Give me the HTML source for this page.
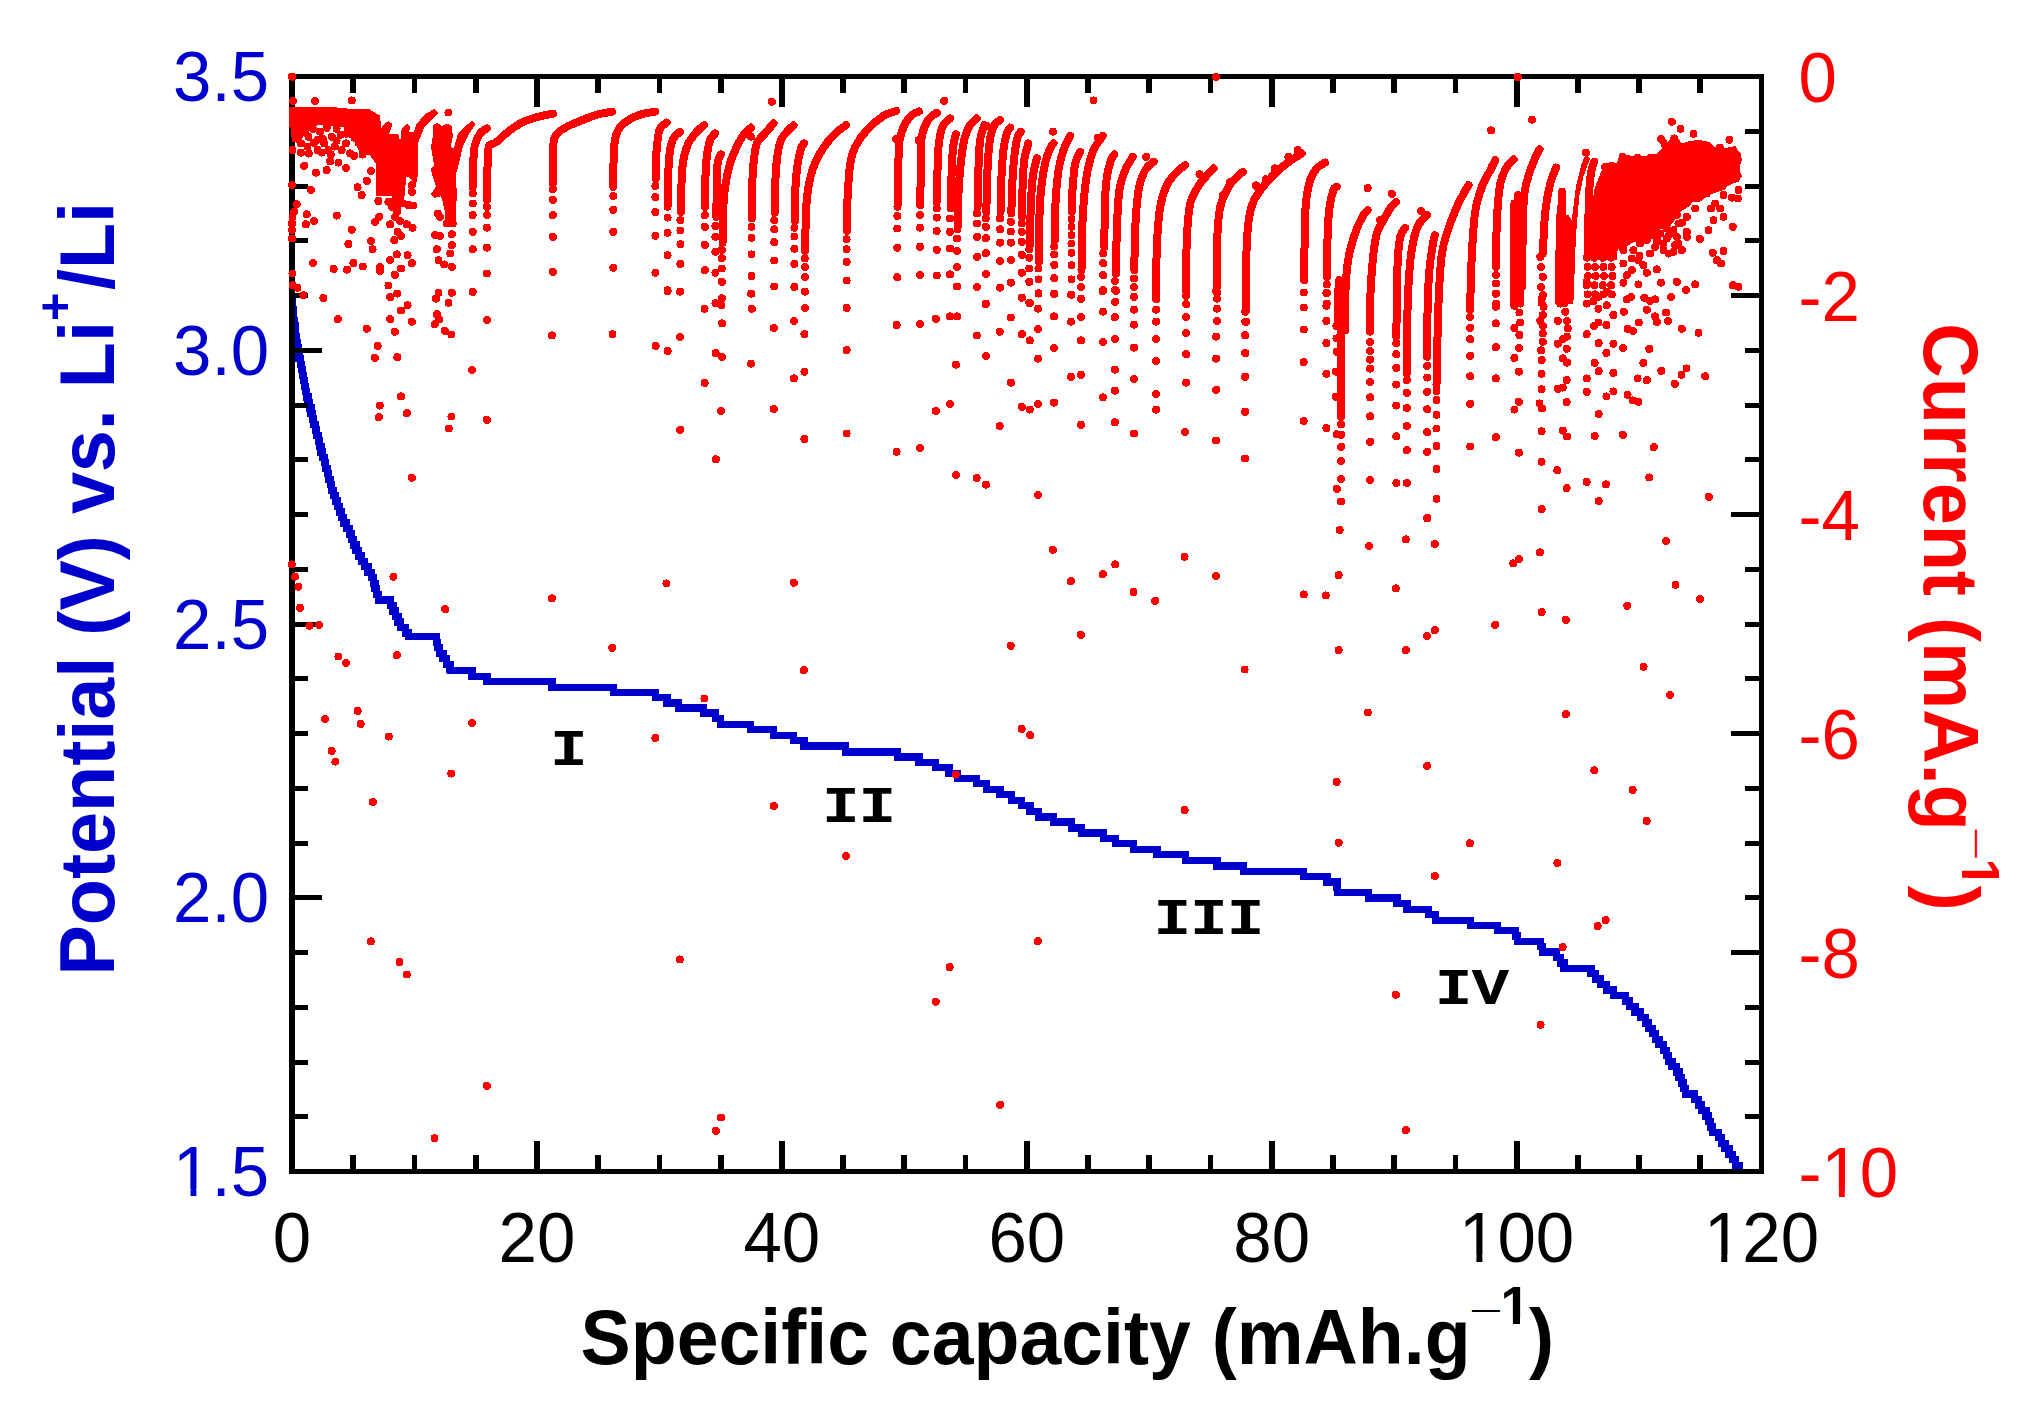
<!DOCTYPE html>
<html lang="en"><head><meta charset="utf-8"><title>Potential and current vs specific capacity</title>
<style>html,body{margin:0;padding:0;background:#fff}svg{display:block}text{font-family:"Liberation Sans",Arial,sans-serif}.m text{font-family:"Liberation Mono","Courier New",monospace;font-weight:bold}</style></head><body>
<svg width="2038" height="1410" viewBox="0 0 2038 1410">
<g shape-rendering="crispEdges">
<rect width="2038" height="1410" fill="#fff"/>
<clipPath id="c"><rect x="289" y="74" width="1475" height="1100"/></clipPath>
<path clip-path="url(#c)" d="M291.2 200H291.2V205.5H291.2V210.9H291.2V216.4H291.2V221.9H291.2V227.4H291.2V232.8H291.2V238.3H291.2V243.8H291.2V249.3H291.2V254.7H291.2V260.2H291.2V265.7H291.2V271.2H291.2V276.7H291.2V282.1H291.2V287.6H291.4V293.1H291.7V298.6H292V304H292.5V309.5H293V315H293.6V320.5H294.3V325.9H295V331.4H295.7V336.9H296.4V342.4H297.1V347.8H298V353.3H299.1V358.8H300.2V364.3H301.2V369.7H302.2V375.2H303.2V380.7H304.3V386.2H305.4V391.6H306.8V397.1H308.1V402.6H309.5V408.1H310.9V413.5H312.3V419H313.7V424.5H315.2V430H316.7V435.4H318.2V440.9H319.7V446.4H321.1V451.9H322.6V457.3H324.2V462.8H325.7V468.3H327.2V473.8H328.7V479.2H330.2V484.7H331.7V490.2H333.6V495.7H335.5V501.1H337.4V506.6H339.4V512.1H341.3V517.6H343.2V523H346.4V528.5H349.3V534H351.5V539.5H353.7V544.9H356.1V550.4H358.8V555.9H361.5V561.4H364.5V566.8H367.9V572.3H371.4V577.8H373.3V583.3H375.1V588.7H376.8V594.2H378.4V600.1H390.7V605.6H393.1V611.1H395.5V616.5H398V622H400.7V627.5H405.8V633H408.5V636.8H436.4V642.3H437.6V647.8H439.5V653.2H443.1V658.7H446.6V664.2H449.9V669.7H450.2V670.8H471.9V676.2H486.9V681.2H551.9V687.5H613.7V692.8H655.4V697.8H667.1V702.9H678.7V707.9H703.8V712.9H715.4V718.5H720.4V724.5H750.5V729.5H773.8V735.2H793.8V740.2H803.9V745.9H845.6V751.9H897.3V756.9H919V762.6H935.7V767.6H949V773.6H957.3V778.6H976.7V783.6H986.7V789.3H1000.1V794.6H1011.7V800.3H1021.7V805.3H1030.1V811.3H1038.4V817H1053.4V822H1071.8V828H1081.8V833H1103.5V838.7H1115.2V843.7H1133.5V849.7H1156.9V854.7H1185.2V860.3H1216.9V866H1243.6V871.4H1303.7V876.4H1327V882H1337.1V887.4H1337.7V892.7H1368.8V898H1397.1V903.7H1407.1V909.4H1428.8V914.7H1435.5V920.4H1470.5V925.4H1497.2V930.4H1515.6V936.1H1517.2V941.4H1540.6V946.8H1542.3V952.1H1556.5V957.5H1560.5V963H1564V968.3H1591.1V973.6H1595.6V979.1H1600.6V984.5H1606.7V990H1613.8V995.5H1625.3V1001H1629.5V1006.4H1635V1011.9H1640.5V1017.4H1645.5V1022.9H1648.3V1028.3H1652.2V1033.8H1655.6V1039.3H1658.9V1044.8H1663.6V1050.2H1666.4V1055.7H1668.6V1061.2H1671.9V1066.6H1676.4V1072.1H1679.1V1077.6H1681.2V1083.1H1683.4V1088.5H1685.7V1094H1694.2V1099.5H1698.6V1105H1701.6V1110.4H1706.1V1115.9H1708.3V1121.4H1710.5V1126.9H1712.8V1132.3H1718.2V1137.8H1721.5V1143.3H1725.1V1148.8H1729.1V1154.2H1732.3V1159.7H1735.8V1165.2H1739.1V1170.7" fill="none" stroke="#0000cd" stroke-width="7.3" stroke-linejoin="miter" stroke-linecap="butt"/>
<g fill="#000">
<rect x="289" y="74" width="6" height="1100"/>
<rect x="1759" y="74" width="5.2" height="1100"/>
<rect x="289" y="74" width="1475" height="5.2"/>
<rect x="289" y="1168.9" width="1475" height="5.1"/>
</g>
<g stroke="#000" fill="none" stroke-linecap="butt">
<path stroke-width="5.8" d="M353.2 76.5v16.2M353.2 1171.5v-16.2M414.5 76.5v16.2M414.5 1171.5v-16.2M475.7 76.5v16.2M475.7 1171.5v-16.2M536.9 76.5v30.3M536.9 1171.5v-30.3M598.1 76.5v16.2M598.1 1171.5v-16.2M659.4 76.5v16.2M659.4 1171.5v-16.2M720.6 76.5v16.2M720.6 1171.5v-16.2M781.8 76.5v30.3M781.8 1171.5v-30.3M843.1 76.5v16.2M843.1 1171.5v-16.2M904.3 76.5v16.2M904.3 1171.5v-16.2M965.5 76.5v16.2M965.5 1171.5v-16.2M1026.8 76.5v30.3M1026.8 1171.5v-30.3M1088 76.5v16.2M1088 1171.5v-16.2M1149.2 76.5v16.2M1149.2 1171.5v-16.2M1210.4 76.5v16.2M1210.4 1171.5v-16.2M1271.7 76.5v30.3M1271.7 1171.5v-30.3M1332.9 76.5v16.2M1332.9 1171.5v-16.2M1394.1 76.5v16.2M1394.1 1171.5v-16.2M1455.4 76.5v16.2M1455.4 1171.5v-16.2M1516.6 76.5v30.3M1516.6 1171.5v-30.3M1577.8 76.5v16.2M1577.8 1171.5v-16.2M1639 76.5v16.2M1639 1171.5v-16.2M1700.3 76.5v16.2M1700.3 1171.5v-16.2"/>
<path stroke-width="5" d="M292.0 131.2h16.2M1761.5 131.2h-16.2M292.0 186h16.2M1761.5 186h-16.2M292.0 240.8h16.2M1761.5 240.8h-16.2M292.0 295.5h16.2M1761.5 295.5h-30.3M292.0 350.2h30.3M1761.5 350.2h-16.2M292.0 405h16.2M1761.5 405h-16.2M292.0 459.8h16.2M1761.5 459.8h-16.2M292.0 514.5h16.2M1761.5 514.5h-30.3M292.0 569.2h16.2M1761.5 569.2h-16.2M292.0 624h30.3M1761.5 624h-16.2M292.0 678.8h16.2M1761.5 678.8h-16.2M292.0 733.5h16.2M1761.5 733.5h-30.3M292.0 788.2h16.2M1761.5 788.2h-16.2M292.0 843h16.2M1761.5 843h-16.2M292.0 897.8h30.3M1761.5 897.8h-16.2M292.0 952.5h16.2M1761.5 952.5h-30.3M292.0 1007.2h16.2M1761.5 1007.2h-16.2M292.0 1062h16.2M1761.5 1062h-16.2M292.0 1116.8h16.2M1761.5 1116.8h-16.2"/>
</g>
<g fill="#ff0000" stroke="none">
<polygon points="289,107.1 333.7,107.1 344.6,108.4 369.4,109.4 380.3,115.9 380.8,128.8 384.3,123.8 388.3,121.3 392.7,123.8 389.3,133.7 398.2,134.2 400.2,141.7 401.7,128.8 407.1,123.3 410.6,126.8 409.1,131.7 414.1,131.7 416.1,124.8 424,114.9 434,108.9 438.9,112.9 424,127.8 418.1,142.7 418.1,174.4 416.1,184.4 409.1,177.4 406.2,177.4 404.2,199.3 399.2,214.2 394.2,212.2 387.3,206.2 392.2,196.3 376.4,196.3 376.4,164.5 369.4,154.6 360.5,154.6 354.5,141.7 343.6,132.7 343.6,126.8 317.8,124.8 307.8,131.7 297.9,142.7 292,141.7 291,128.8 289,126.8"/>
<polygon points="433,124.8 436.9,122.8 441.9,125.8 446.9,123.8 451.8,125.8 452.8,136.7 450.8,146.6 453.8,148.6 457.8,133.7 463.7,127.8 471.7,120.8 475.7,123.8 468.7,134.7 462.8,146.6 458.8,164.5 455.8,174.4 456.8,194.3 455.8,219.1 452.8,225.1 445.9,224.1 443.9,204.2 439.9,194.3 435,198.3 431,194.3 435.9,186.4 432,174.4 434,164.5 431,146.6 433,134.7"/>
<polygon points="1555,303.6 1555.8,220.2 1558.4,196.8 1561.7,189.3 1565.9,193.5 1565,215.1 1568.4,215.1 1571.7,220.2 1575.9,186.8 1581.7,163.4 1585.9,154.3 1590.1,158.4 1583.4,176.8 1579.2,196.8 1575.9,236.8 1573.4,303.6"/>
<polygon points="1595.1,186.8 1601.7,170.1 1616.7,162.6 1623.4,154.3 1636.8,156.8 1656.8,154.3 1661.8,148.4 1660.1,137.6 1666.8,143.4 1673.5,135.9 1681.8,143.4 1690.2,140.9 1706.8,140.9 1716.8,150.1 1735.2,145.9 1741,156.8 1739.4,173.4 1741.9,176.8 1736.9,181.8 1726.9,186.8 1706.8,190.1 1700.2,183.4 1690.2,196.8 1686.8,208.5 1670.1,205.1 1663.5,211.8 1648.4,216.8 1640.1,226.8 1620.1,230.2 1617.6,243.5 1591.7,243.5 1592.6,203.5"/>
<polygon points="1594.8,187.5 1602.8,173.6 1602.8,166.7 1616.7,162.7 1619.7,154.8 1626.6,158.7 1634.5,155.7 1647.5,156.7 1659.4,152.8 1662.4,147.8 1658.4,139.9 1664.3,137.9 1669.3,143.8 1673.3,135.9 1679.2,139.9 1684.2,148.8 1690.2,140.9 1699.1,139.9 1709,141.8 1715,147.8 1720,144.8 1726.9,150.8 1733.9,146.8 1740.8,152.8 1741.8,159.7 1738.8,169.7 1741.8,175.6 1738.8,181.6 1728.9,184.5 1724.9,189.5 1713,193.5 1704.1,198.5 1699.1,202.4 1692.1,202.4 1689.2,206.4 1679.2,212.4 1675.3,219.3 1669.3,227.2 1659.4,229.2 1652.4,235.2 1645.5,239.2 1633.6,242.1 1625.6,247.1 1617.7,249.1 1616.7,260 1584.9,260 1584.9,209.4 1592.8,199.4"/>
</g>
<g fill="none" stroke="#ff0000" stroke-width="8" stroke-linecap="round" stroke-linejoin="round">
<path d="M472.7 186.8C472.8 182.9 472.8 170.4 473.2 163.4C473.6 156.4 473.7 150.1 474.9 145.1C476.1 140.1 478.2 136.2 480.2 133.4C482.2 130.6 485.8 129.2 486.9 128.4M486.9 200.1C487 195.1 487.1 178.7 487.4 170.1C487.7 161.5 488 152.6 488.5 148.4C489 144.2 488.8 146.2 490.2 145.1C491.6 144 494.4 143.5 496.9 141.7C499.4 139.9 502.4 136.5 505.2 134.2C508 131.8 510.8 129.5 513.6 127.6C516.4 125.7 519.1 124 521.9 122.6C524.7 121.2 527 120.3 530.3 119.2C533.6 118.1 538.1 116.8 541.9 115.9C545.6 115 551 114.1 552.8 113.7M552.8 183.4C552.8 179 553 163.8 553.1 156.8C553.2 149.9 553.3 145 553.6 141.7C553.9 138.3 553.8 138.5 554.9 136.7C556 134.9 558.3 132.6 560.3 130.9C562.3 129.2 563.7 128.4 567 126.7C570.3 125 575.3 122.9 580.3 120.9C585.3 118.9 591.7 116.2 597 114.7C602.3 113.2 609.5 112.2 612 111.7M613.3 186.8C613.4 181.2 613.4 161.2 613.7 153.4C614 145.6 614.5 143.4 615 140.1C615.5 136.8 615.7 135.8 616.7 133.4C617.7 131 618.7 128.3 620.9 125.9C623.1 123.5 626.5 121.2 630 119.2C633.5 117.2 637.5 115.5 641.7 114.2C645.9 113 652.9 112.1 655.1 111.7M655.9 178.4C656 174.2 656.1 159.8 656.4 153.4C656.7 147 657 144.3 657.6 140.1C658.2 135.9 658.6 131.3 660.1 128.4C661.6 125.5 665.6 123.6 666.7 122.6M667.6 206.8C667.7 200.7 668 179.6 668.4 170.1C668.8 160.6 669.3 155.4 670.1 150.1C670.9 144.8 671.7 141.5 673.4 138.4C675.1 135.3 679 132.8 680.1 131.7M680.9 211.8C681 206.2 681.3 187 681.7 178.4C682.1 169.8 682.3 165.9 683.4 160.1C684.5 154.3 686.2 148.1 688.4 143.4C690.6 138.7 694.1 134.8 696.8 131.7C699.4 128.6 703 126.2 704.3 125.1M705.1 206.8C705.1 202.1 705.1 186.7 705.4 178.4C705.7 170.1 706 163.2 706.8 156.8C707.6 150.4 708.7 144 710.1 140.1C711.5 136.2 714.3 134.5 715.1 133.4M716.3 216.8C716.4 211.8 716.6 195.7 716.8 186.8C717 177.9 716.9 168.8 717.6 163.4C718.3 158 720.4 155.8 721 154.3M722.6 242.7C722.7 237.5 722.7 221.1 723.1 211.8C723.5 202.5 723.9 194.9 725.1 186.8C726.3 178.7 728.2 170.1 730.1 163.4C732 156.7 734.6 151.4 736.8 146.7C739 142 741.1 138.3 743.5 135.1C745.9 131.9 749.8 128.8 751 127.6M751.8 218.5C751.9 213.2 751.9 196 752.2 186.8C752.5 177.6 752.7 170.6 753.5 163.4C754.3 156.2 755.1 148.1 756.8 143.4C758.5 138.7 760.7 138.4 763.5 135.1C766.3 131.8 771.8 125.4 773.5 123.4M774.8 212.6C774.9 206.9 775 188.3 775.5 178.4C776 168.5 776.7 160.1 777.7 153.4C778.8 146.7 780 142.3 781.8 138.4C783.6 134.5 786.5 132.3 788.5 130.1C790.5 127.9 792.7 126.2 793.5 125.4M794.9 221C795 215.3 795 196.4 795.5 186.8C796 177.2 796.8 169.8 797.7 163.4C798.6 157 800 151.7 801 148.4C802 145.1 803.4 144.2 803.9 143.4M805.2 251C805.3 244.5 805.5 222.5 806 211.8C806.5 201.1 807.2 194.3 808.5 186.8C809.8 179.3 811.3 172.9 813.5 166.8C815.7 160.7 818.5 155.4 821.9 150.1C825.2 144.8 829.6 139.3 833.6 135.1C837.6 130.9 844 126.8 846.1 125.1M846.9 231C847 225 847.1 206.4 847.7 195.1C848.3 183.8 849 171.5 850.3 163.4C851.6 155.3 852.5 152.2 855.3 146.7C858.1 141.1 862.2 135.2 866.9 130.1C871.6 125 878.7 119.1 883.6 115.9C888.5 112.7 894 111.7 896.1 110.9M897.5 206.8C897.6 200.7 898 181.2 898.3 170.1C898.6 159 898.3 147.9 899.5 140.1C900.7 132.3 903.2 127.6 905.3 123.4C907.4 119.2 909.7 117 912 115C914.3 113 917.8 112 919 111.4M920.3 205.1C920.4 199.3 920.6 180.9 920.7 170.1C920.9 159.3 920.2 148.2 921.2 140.1C922.2 132 924.6 126.2 927 121.7C929.4 117.2 933.6 114.9 935.3 113.4C937 112 936.7 113.1 937 113M936.7 201.8C936.8 196.5 937.2 179.6 937.5 170.1C937.8 160.6 937.9 152.3 938.7 145.1C939.5 137.9 940.6 131.2 942.5 126.7C944.4 122.2 948.8 119.8 950 118.4M950.9 208.5C951 202.1 951.3 180.7 951.7 170.1C952.1 159.5 952.7 151.1 953.4 145.1C954.1 139.1 955.5 136 955.9 134.2M957.5 229.3C957.6 223.6 957.8 206.3 958.4 195.1C959 183.8 959.8 171.5 960.9 161.8C962 152.1 963.5 142.8 965 136.7C966.5 130.6 968.1 128.1 970.1 125.1C972.1 122 975.6 119.5 976.7 118.4M977.6 206.8C977.7 200.7 978 181.2 978.4 170.1C978.8 159 979.1 147.6 980.1 140.1C981.1 132.6 983.5 127.6 984.2 125.1M986.4 211.8C986.5 206.2 986.6 189.5 987.1 178.4C987.6 167.3 988.2 153.7 989.2 145.1C990.2 136.5 991.6 130.9 993.4 126.7C995.2 122.5 999 121.2 1000.1 120.1M1000.6 211.8C1000.7 206.2 1000.9 188.7 1001.4 178.4C1001.9 168.1 1002.5 157.6 1003.4 150.1C1004.3 142.6 1005.7 137.2 1006.8 133.4C1007.9 129.7 1009.5 128.6 1010.1 127.6M1011.4 213.5C1011.5 209.1 1011.6 196.2 1012.1 186.8C1012.6 177.4 1013.4 165.2 1014.3 156.8C1015.2 148.5 1016.5 140.9 1017.6 136.7C1018.7 132.5 1020.4 132.5 1020.9 131.7M1022.1 216.8C1022.2 211.8 1022.2 196.2 1022.6 186.8C1023 177.4 1023.3 167.3 1024.3 160.1C1025.3 152.9 1027.7 146.2 1028.4 143.4M1030.1 245.2C1030.2 239.6 1030.2 222.9 1030.6 211.8C1031 200.7 1031.6 187.3 1032.6 178.4C1033.6 169.5 1036.1 161.7 1036.8 158.4M1038.8 261.9C1038.9 254.9 1038.9 232.2 1039.3 220.2C1039.7 208.2 1040 199.6 1041 190.1C1042 180.6 1043.6 170.3 1045.1 163.4C1046.6 156.5 1048.7 151.7 1050.1 148.4C1051.5 145.1 1052.9 144.2 1053.5 143.4M1054.8 240.2C1054.9 234.1 1054.9 215.2 1055.5 203.5C1056.1 191.8 1057.2 179 1058.5 170.1C1059.8 161.2 1061.5 155.8 1063.5 150.1C1065.5 144.4 1069.1 138.3 1070.2 135.9M1071.8 211.8C1072 207.6 1072.1 194.9 1072.7 186.8C1073.3 178.7 1074 169.2 1075.2 163.4C1076.5 157.6 1079.4 153.6 1080.2 151.7M1081.5 270.2C1081.6 263.2 1081.7 241 1082.2 228.5C1082.7 216 1083.4 204.8 1084.3 195.1C1085.2 185.4 1086.2 177.6 1087.7 170.1C1089.2 162.6 1091 155.8 1093.5 150.1C1096 144.4 1101.2 138.3 1102.7 135.9M1104.4 246.8C1104.5 239.6 1104.5 215.2 1104.9 203.5C1105.3 191.8 1105.9 184 1106.9 176.8C1107.9 169.6 1109.8 163.8 1111 160.1C1112.2 156.3 1113.8 155.3 1114.4 154.3M1116 273.5C1116.2 266 1116.3 242.4 1116.9 228.5C1117.5 214.6 1118 199.8 1119.4 190.1C1120.8 180.4 1123 175.6 1125.2 170.1C1127.4 164.6 1131.5 159 1132.7 156.8M1134.4 270.2C1134.5 263.2 1134.5 241.8 1135.2 228.5C1135.9 215.2 1136.9 199.8 1138.6 190.1C1140.3 180.4 1142.7 174.8 1145.2 170.1C1147.7 165.4 1152.2 163.2 1153.6 161.8M1155.6 294.4C1155.7 294 1155.9 300.1 1156.1 291.9C1156.3 283.7 1156.2 259.4 1156.9 245.2C1157.6 231 1158.5 216.8 1160.2 206.8C1161.9 196.8 1164.1 190.9 1166.9 185.1C1169.7 179.3 1173.8 175.1 1176.9 171.8C1180 168.5 1183.9 166.2 1185.3 165.1M1185.6 288.9C1185.7 288.6 1185.9 295.6 1186.1 286.9C1186.3 278.2 1186.2 250.7 1186.9 236.8C1187.6 222.9 1188.1 212.4 1190.3 203.5C1192.5 194.6 1196.4 189.2 1200.3 183.4C1204.2 177.6 1211.4 170.9 1213.6 168.4M1216.1 290.6C1216.2 290 1216.4 295.9 1216.6 286.9C1216.8 277.9 1216.7 250.2 1217.3 236.8C1217.9 223.5 1218.4 215.1 1220.3 206.8C1222.2 198.5 1225.8 191.8 1228.6 186.8C1231.4 181.8 1234.6 179.3 1237 176.8C1239.4 174.3 1241.8 172.6 1242.8 171.8M1245.3 311.7C1245.4 310.4 1245.6 314.7 1245.8 303.6C1246 292.5 1246.1 259.7 1246.7 245.2C1247.3 230.7 1248.1 224 1249.2 216.8C1250.3 209.6 1251.2 206.5 1253.3 201.8C1255.4 197.1 1258.3 192.9 1261.7 188.5C1265.1 184.1 1269.2 179.3 1273.4 175.1C1277.6 170.9 1282 167 1286.7 163.4C1291.4 159.8 1299.2 155.1 1301.7 153.4M1304.2 280.2C1304.3 273 1304.4 249.6 1304.7 236.8C1305 224 1305 212.9 1305.9 203.5C1306.8 194.1 1308.3 185.9 1310.1 180.1C1311.9 174.2 1314.2 171.3 1316.7 168.4C1319.2 165.5 1323.7 163.6 1325.1 162.6M1326.8 276.9C1326.9 270.2 1327.2 248.2 1327.6 236.8C1328 225.4 1328.3 216.3 1329.3 208.5C1330.3 200.7 1332.2 193.7 1333.4 190.1C1334.7 186.5 1336.2 187.4 1336.8 186.8M1341.1 416.8C1341.1 397.9 1341.2 326.3 1341.1 303.6C1341 280.9 1340.7 284.4 1340.6 280.5M1345.4 330C1345.4 325.6 1344.9 313.6 1345.1 303.6C1345.3 293.6 1346 279.1 1346.8 270.2C1347.6 261.3 1348.4 257.1 1350.1 250.2C1351.8 243.2 1354.6 234.3 1356.8 228.5C1359 222.7 1361.7 218.2 1363.5 215.1C1365.3 212 1366.9 210.9 1367.6 210.1M1370.1 331.7C1370.1 327 1369.7 315.2 1370.1 303.6C1370.5 292 1371.5 273.6 1372.6 261.9C1373.7 250.2 1375 240.4 1376.8 233.5C1378.6 226.6 1381.3 224.4 1383.5 220.2C1385.7 216 1388.1 211.6 1390.2 208.5C1392.3 205.4 1395 202.9 1396 201.8M1396.3 336.7C1396.4 331.2 1396.6 316.1 1396.8 303.6C1397 291.1 1397.1 273 1397.7 261.9C1398.3 250.8 1399 242.5 1400.2 236.8C1401.5 231.1 1404.4 229.2 1405.2 227.7M1406.8 373.4C1407 361.8 1407.1 322.2 1407.7 303.6C1408.3 285 1409.1 273 1410.2 261.9C1411.3 250.8 1412.8 243.2 1414.3 236.8C1415.8 230.4 1417.2 227.1 1419.3 223.5C1421.4 219.9 1425.6 216.5 1426.9 215.1M1427.2 356.7C1427.3 347.9 1427.3 318 1427.7 303.6C1428.1 289.2 1428.6 279.9 1429.4 270.2C1430.2 260.5 1431.8 251 1432.7 245.2C1433.6 239.4 1434.5 236.9 1434.9 235.2M1436.5 385.1C1436.8 371.5 1437.6 325.5 1438.5 303.6C1439.4 281.7 1440.2 266 1441.9 253.5C1443.6 241 1446 236.3 1448.5 228.5C1451 220.7 1454.4 212.6 1456.9 206.8C1459.4 201 1461.6 197.1 1463.6 193.5C1465.5 189.9 1467.8 186.5 1468.6 185.1M1470.2 310C1470.2 308.9 1469.9 313 1470.2 303.6C1470.5 294.2 1471.1 268.8 1471.9 253.5C1472.7 238.2 1473.5 222.9 1475.2 211.8C1476.9 200.7 1479.4 193.8 1481.9 186.8C1484.4 179.9 1488.1 174.6 1490.3 170.1C1492.5 165.6 1494.5 161.8 1495.3 160.1M1496.1 266.9C1496.2 259.1 1496.2 234.1 1496.9 220.2C1497.6 206.3 1498.6 192.3 1500.3 183.4C1502 174.5 1504.7 170.8 1506.9 166.8C1509.1 162.8 1512.5 160.6 1513.6 159.3M1516.9 303.6C1516.9 292.5 1516.8 254.9 1516.9 236.8C1517.1 218.7 1517.7 202.1 1517.8 195.1M1521.9 286.9C1522.2 273 1522.6 221.6 1523.6 203.5C1524.6 185.4 1526.1 185.3 1527.8 178.4C1529.5 171.5 1531.6 166.7 1533.6 161.8C1535.5 156.9 1538.5 151.3 1539.5 149.2M1542.8 253.5C1543.2 246.6 1544 223.5 1545.3 211.8C1546.5 200.1 1548.5 190.8 1550.3 183.4C1552.1 176 1555.1 170.2 1556.1 167.6M1560.3 303.6C1560.5 292.5 1560.9 255.4 1561.2 236.8C1561.5 218.2 1561.9 199.3 1562 191.8M1588.4 253.5C1588.5 245.2 1588.3 216.8 1588.7 203.5C1589.1 190.2 1590 180.3 1590.9 173.4C1591.8 166.5 1593.7 163.7 1594.2 161.8M1513.6 303.6L1514.4 203.5M1520.3 303.6L1520.6 220.2M1339.3 303.6L1339.3 280.2M1338.1 290L1338.1 323.4"/>
</g>
<path fill="#ff0000" d="M288.5 76.7a4 4 0 1 0 8 0a4 4 0 1 0 -8 0M289 100.9a4 4 0 1 0 8 0a4 4 0 1 0 -8 0M288.5 150.1a4 4 0 1 0 8 0a4 4 0 1 0 -8 0M288 185.1a4 4 0 1 0 8 0a4 4 0 1 0 -8 0M292.7 204.3a4 4 0 1 0 8 0a4 4 0 1 0 -8 0M290.2 211.8a4 4 0 1 0 8 0a4 4 0 1 0 -8 0M288.5 216.8a4 4 0 1 0 8 0a4 4 0 1 0 -8 0M288 223.5a4 4 0 1 0 8 0a4 4 0 1 0 -8 0M288 230.2a4 4 0 1 0 8 0a4 4 0 1 0 -8 0M288 238.5a4 4 0 1 0 8 0a4 4 0 1 0 -8 0M288.5 273.5a4 4 0 1 0 8 0a4 4 0 1 0 -8 0M288.5 285.2a4 4 0 1 0 8 0a4 4 0 1 0 -8 0M293.5 287.7a4 4 0 1 0 8 0a4 4 0 1 0 -8 0M299.4 295.2a4 4 0 1 0 8 0a4 4 0 1 0 -8 0M311 100.9a4 4 0 1 0 8 0a4 4 0 1 0 -8 0M347.7 100.4a4 4 0 1 0 8 0a4 4 0 1 0 -8 0M444.5 112.5a4 4 0 1 0 8 0a4 4 0 1 0 -8 0M296.9 143.4a4 4 0 1 0 8 0a4 4 0 1 0 -8 0M296.9 152.6a4 4 0 1 0 8 0a4 4 0 1 0 -8 0M304.4 136.7a4 4 0 1 0 8 0a4 4 0 1 0 -8 0M303.5 146.7a4 4 0 1 0 8 0a4 4 0 1 0 -8 0M316 131.7a4 4 0 1 0 8 0a4 4 0 1 0 -8 0M313.5 150.1a4 4 0 1 0 8 0a4 4 0 1 0 -8 0M320.2 143.4a4 4 0 1 0 8 0a4 4 0 1 0 -8 0M324.4 150.1a4 4 0 1 0 8 0a4 4 0 1 0 -8 0M341.9 143.4a4 4 0 1 0 8 0a4 4 0 1 0 -8 0M337.7 150.1a4 4 0 1 0 8 0a4 4 0 1 0 -8 0M346.1 153.4a4 4 0 1 0 8 0a4 4 0 1 0 -8 0M350.2 155.9a4 4 0 1 0 8 0a4 4 0 1 0 -8 0M326.1 161.4a4 4 0 1 0 8 0a4 4 0 1 0 -8 0M334.4 162.6a4 4 0 1 0 8 0a4 4 0 1 0 -8 0M341.9 168.1a4 4 0 1 0 8 0a4 4 0 1 0 -8 0M300.2 165.9a4 4 0 1 0 8 0a4 4 0 1 0 -8 0M311.9 172.6a4 4 0 1 0 8 0a4 4 0 1 0 -8 0M322.7 170.1a4 4 0 1 0 8 0a4 4 0 1 0 -8 0M366.9 170.9a4 4 0 1 0 8 0a4 4 0 1 0 -8 0M362.8 180.9a4 4 0 1 0 8 0a4 4 0 1 0 -8 0M353.6 187.3a4 4 0 1 0 8 0a4 4 0 1 0 -8 0M357.7 195.1a4 4 0 1 0 8 0a4 4 0 1 0 -8 0M306.9 189.8a4 4 0 1 0 8 0a4 4 0 1 0 -8 0M302.7 214.3a4 4 0 1 0 8 0a4 4 0 1 0 -8 0M332.7 215.6a4 4 0 1 0 8 0a4 4 0 1 0 -8 0M310.2 221a4 4 0 1 0 8 0a4 4 0 1 0 -8 0M301.9 224.3a4 4 0 1 0 8 0a4 4 0 1 0 -8 0M347.7 229.7a4 4 0 1 0 8 0a4 4 0 1 0 -8 0M344.4 244a4 4 0 1 0 8 0a4 4 0 1 0 -8 0M366.9 241a4 4 0 1 0 8 0a4 4 0 1 0 -8 0M368.6 249.3a4 4 0 1 0 8 0a4 4 0 1 0 -8 0M374.4 201a4 4 0 1 0 8 0a4 4 0 1 0 -8 0M375.3 216.8a4 4 0 1 0 8 0a4 4 0 1 0 -8 0M371.1 221.8a4 4 0 1 0 8 0a4 4 0 1 0 -8 0M386.1 224.3a4 4 0 1 0 8 0a4 4 0 1 0 -8 0M391.1 216.8a4 4 0 1 0 8 0a4 4 0 1 0 -8 0M396.1 221a4 4 0 1 0 8 0a4 4 0 1 0 -8 0M402.8 224.3a4 4 0 1 0 8 0a4 4 0 1 0 -8 0M408.6 227.7a4 4 0 1 0 8 0a4 4 0 1 0 -8 0M393.6 231.8a4 4 0 1 0 8 0a4 4 0 1 0 -8 0M397 236a4 4 0 1 0 8 0a4 4 0 1 0 -8 0M390.3 240.2a4 4 0 1 0 8 0a4 4 0 1 0 -8 0M392.8 254.4a4 4 0 1 0 8 0a4 4 0 1 0 -8 0M386.1 259.9a4 4 0 1 0 8 0a4 4 0 1 0 -8 0M403.6 255.2a4 4 0 1 0 8 0a4 4 0 1 0 -8 0M407.8 263.2a4 4 0 1 0 8 0a4 4 0 1 0 -8 0M397 268.5a4 4 0 1 0 8 0a4 4 0 1 0 -8 0M390.8 274.9a4 4 0 1 0 8 0a4 4 0 1 0 -8 0M376.1 266.9a4 4 0 1 0 8 0a4 4 0 1 0 -8 0M376.1 271a4 4 0 1 0 8 0a4 4 0 1 0 -8 0M358.9 266.5a4 4 0 1 0 8 0a4 4 0 1 0 -8 0M349.4 263a4 4 0 1 0 8 0a4 4 0 1 0 -8 0M343.1 269.7a4 4 0 1 0 8 0a4 4 0 1 0 -8 0M329.7 268.9a4 4 0 1 0 8 0a4 4 0 1 0 -8 0M308.9 263a4 4 0 1 0 8 0a4 4 0 1 0 -8 0M384.4 285.5a4 4 0 1 0 8 0a4 4 0 1 0 -8 0M393.3 293.6a4 4 0 1 0 8 0a4 4 0 1 0 -8 0M386.1 297.2a4 4 0 1 0 8 0a4 4 0 1 0 -8 0M319.4 298.1a4 4 0 1 0 8 0a4 4 0 1 0 -8 0M403.6 305.2a4 4 0 1 0 8 0a4 4 0 1 0 -8 0M407.8 185.1a4 4 0 1 0 8 0a4 4 0 1 0 -8 0M407.8 191.8a4 4 0 1 0 8 0a4 4 0 1 0 -8 0M404.5 205.1a4 4 0 1 0 8 0a4 4 0 1 0 -8 0M409.5 205.5a4 4 0 1 0 8 0a4 4 0 1 0 -8 0M384.4 201.8a4 4 0 1 0 8 0a4 4 0 1 0 -8 0M387.8 206.8a4 4 0 1 0 8 0a4 4 0 1 0 -8 0M392.8 211.8a4 4 0 1 0 8 0a4 4 0 1 0 -8 0M399.5 203.5a4 4 0 1 0 8 0a4 4 0 1 0 -8 0M431.2 170.1a4 4 0 1 0 8 0a4 4 0 1 0 -8 0M432.8 193.5a4 4 0 1 0 8 0a4 4 0 1 0 -8 0M433.7 213.5a4 4 0 1 0 8 0a4 4 0 1 0 -8 0M431.2 235.2a4 4 0 1 0 8 0a4 4 0 1 0 -8 0M436.2 236a4 4 0 1 0 8 0a4 4 0 1 0 -8 0M432.8 249.3a4 4 0 1 0 8 0a4 4 0 1 0 -8 0M434.5 260.2a4 4 0 1 0 8 0a4 4 0 1 0 -8 0M440.3 264.4a4 4 0 1 0 8 0a4 4 0 1 0 -8 0M447.8 266.9a4 4 0 1 0 8 0a4 4 0 1 0 -8 0M447.8 234.3a4 4 0 1 0 8 0a4 4 0 1 0 -8 0M447.8 245.2a4 4 0 1 0 8 0a4 4 0 1 0 -8 0M446.2 253.5a4 4 0 1 0 8 0a4 4 0 1 0 -8 0M434.5 292.7a4 4 0 1 0 8 0a4 4 0 1 0 -8 0M432 298.6a4 4 0 1 0 8 0a4 4 0 1 0 -8 0M447.8 292.7a4 4 0 1 0 8 0a4 4 0 1 0 -8 0M444.5 302.7a4 4 0 1 0 8 0a4 4 0 1 0 -8 0M442.8 203.5a4 4 0 1 0 8 0a4 4 0 1 0 -8 0M444.5 211.8a4 4 0 1 0 8 0a4 4 0 1 0 -8 0M442.8 223.5a4 4 0 1 0 8 0a4 4 0 1 0 -8 0M448.7 223.5a4 4 0 1 0 8 0a4 4 0 1 0 -8 0M435.9 217.1a4 4 0 1 0 8 0a4 4 0 1 0 -8 0M290.9 134.7a4 4 0 1 0 8 0a4 4 0 1 0 -8 0M292.9 138.7a4 4 0 1 0 8 0a4 4 0 1 0 -8 0M313.8 139.7a4 4 0 1 0 8 0a4 4 0 1 0 -8 0M317.7 152.6a4 4 0 1 0 8 0a4 4 0 1 0 -8 0M327.7 136.7a4 4 0 1 0 8 0a4 4 0 1 0 -8 0M332.6 140.7a4 4 0 1 0 8 0a4 4 0 1 0 -8 0M336.6 134.7a4 4 0 1 0 8 0a4 4 0 1 0 -8 0M330.7 146.6a4 4 0 1 0 8 0a4 4 0 1 0 -8 0M342.6 133.7a4 4 0 1 0 8 0a4 4 0 1 0 -8 0M354.5 142.7a4 4 0 1 0 8 0a4 4 0 1 0 -8 0M359.5 150.6a4 4 0 1 0 8 0a4 4 0 1 0 -8 0M358.5 154.6a4 4 0 1 0 8 0a4 4 0 1 0 -8 0M350.5 137.7a4 4 0 1 0 8 0a4 4 0 1 0 -8 0M346.5 128.8a4 4 0 1 0 8 0a4 4 0 1 0 -8 0M295.9 130.7a4 4 0 1 0 8 0a4 4 0 1 0 -8 0M300.9 132.7a4 4 0 1 0 8 0a4 4 0 1 0 -8 0M308.8 128.8a4 4 0 1 0 8 0a4 4 0 1 0 -8 0M322.7 127.8a4 4 0 1 0 8 0a4 4 0 1 0 -8 0M332.6 128.8a4 4 0 1 0 8 0a4 4 0 1 0 -8 0M318.7 138.7a4 4 0 1 0 8 0a4 4 0 1 0 -8 0M309.8 142.7a4 4 0 1 0 8 0a4 4 0 1 0 -8 0M326.7 154.6a4 4 0 1 0 8 0a4 4 0 1 0 -8 0M304.8 153.6a4 4 0 1 0 8 0a4 4 0 1 0 -8 0M767.8 101.7a4 4 0 1 0 8 0a4 4 0 1 0 -8 0M940.2 100.9a4 4 0 1 0 8 0a4 4 0 1 0 -8 0M1049 131.7a4 4 0 1 0 8 0a4 4 0 1 0 -8 0M1089.5 100.4a4 4 0 1 0 8 0a4 4 0 1 0 -8 0M1212.1 77a4 4 0 1 0 8 0a4 4 0 1 0 -8 0M1252.2 185.9a4 4 0 1 0 8 0a4 4 0 1 0 -8 0M1363.6 188.1a4 4 0 1 0 8 0a4 4 0 1 0 -8 0M1387.8 193.8a4 4 0 1 0 8 0a4 4 0 1 0 -8 0M1487.1 130.4a4 4 0 1 0 8 0a4 4 0 1 0 -8 0M1528 119.7a4 4 0 1 0 8 0a4 4 0 1 0 -8 0M1513.8 77a4 4 0 1 0 8 0a4 4 0 1 0 -8 0M1667.8 121.7a4 4 0 1 0 8 0a4 4 0 1 0 -8 0M1676.5 128.7a4 4 0 1 0 8 0a4 4 0 1 0 -8 0M1689.5 133.7a4 4 0 1 0 8 0a4 4 0 1 0 -8 0M1725.4 139.7a4 4 0 1 0 8 0a4 4 0 1 0 -8 0M1657 139.2a4 4 0 1 0 8 0a4 4 0 1 0 -8 0M1670.3 138.4a4 4 0 1 0 8 0a4 4 0 1 0 -8 0M1715.8 147.6a4 4 0 1 0 8 0a4 4 0 1 0 -8 0M1581.9 152.6a4 4 0 1 0 8 0a4 4 0 1 0 -8 0M1618.6 156.8a4 4 0 1 0 8 0a4 4 0 1 0 -8 0M1633.6 157.6a4 4 0 1 0 8 0a4 4 0 1 0 -8 0M1646.9 157.6a4 4 0 1 0 8 0a4 4 0 1 0 -8 0M1601.1 166.8a4 4 0 1 0 8 0a4 4 0 1 0 -8 0M1607.7 165.9a4 4 0 1 0 8 0a4 4 0 1 0 -8 0M1734.5 190.1a4 4 0 1 0 8 0a4 4 0 1 0 -8 0M1733.7 198.5a4 4 0 1 0 8 0a4 4 0 1 0 -8 0M1727.9 197.6a4 4 0 1 0 8 0a4 4 0 1 0 -8 0M1719.5 195.1a4 4 0 1 0 8 0a4 4 0 1 0 -8 0M1711.2 203.5a4 4 0 1 0 8 0a4 4 0 1 0 -8 0M1716.2 208.5a4 4 0 1 0 8 0a4 4 0 1 0 -8 0M1707 208.5a4 4 0 1 0 8 0a4 4 0 1 0 -8 0M1719.5 216.8a4 4 0 1 0 8 0a4 4 0 1 0 -8 0M1709.5 220.2a4 4 0 1 0 8 0a4 4 0 1 0 -8 0M1728.7 226.8a4 4 0 1 0 8 0a4 4 0 1 0 -8 0M1704.5 230.2a4 4 0 1 0 8 0a4 4 0 1 0 -8 0M1695.8 238.8a4 4 0 1 0 8 0a4 4 0 1 0 -8 0M1691.2 208.5a4 4 0 1 0 8 0a4 4 0 1 0 -8 0M1696.2 196.8a4 4 0 1 0 8 0a4 4 0 1 0 -8 0M1702.8 193.5a4 4 0 1 0 8 0a4 4 0 1 0 -8 0M1682.8 216.8a4 4 0 1 0 8 0a4 4 0 1 0 -8 0M1677.8 222.7a4 4 0 1 0 8 0a4 4 0 1 0 -8 0M1672.8 215.1a4 4 0 1 0 8 0a4 4 0 1 0 -8 0M1666.1 208.5a4 4 0 1 0 8 0a4 4 0 1 0 -8 0M1662.8 228.5a4 4 0 1 0 8 0a4 4 0 1 0 -8 0M1652.8 226.8a4 4 0 1 0 8 0a4 4 0 1 0 -8 0M1682.8 231.8a4 4 0 1 0 8 0a4 4 0 1 0 -8 0M1682.8 236.8a4 4 0 1 0 8 0a4 4 0 1 0 -8 0M1672.8 236.8a4 4 0 1 0 8 0a4 4 0 1 0 -8 0M1677.8 250.2a4 4 0 1 0 8 0a4 4 0 1 0 -8 0M1664.5 253.5a4 4 0 1 0 8 0a4 4 0 1 0 -8 0M1671.1 245.2a4 4 0 1 0 8 0a4 4 0 1 0 -8 0M1652.8 241.8a4 4 0 1 0 8 0a4 4 0 1 0 -8 0M1659.5 243.5a4 4 0 1 0 8 0a4 4 0 1 0 -8 0M1646.1 253.5a4 4 0 1 0 8 0a4 4 0 1 0 -8 0M1636.1 243.5a4 4 0 1 0 8 0a4 4 0 1 0 -8 0M1629.4 250.2a4 4 0 1 0 8 0a4 4 0 1 0 -8 0M1619.4 240.2a4 4 0 1 0 8 0a4 4 0 1 0 -8 0M1619.4 250.2a4 4 0 1 0 8 0a4 4 0 1 0 -8 0M1619.4 263.5a4 4 0 1 0 8 0a4 4 0 1 0 -8 0M1627.8 258.5a4 4 0 1 0 8 0a4 4 0 1 0 -8 0M1634.4 260.2a4 4 0 1 0 8 0a4 4 0 1 0 -8 0M1639.4 265.2a4 4 0 1 0 8 0a4 4 0 1 0 -8 0M1642.8 272.7a4 4 0 1 0 8 0a4 4 0 1 0 -8 0M1652.8 269.4a4 4 0 1 0 8 0a4 4 0 1 0 -8 0M1627.8 270.2a4 4 0 1 0 8 0a4 4 0 1 0 -8 0M1622.8 275.2a4 4 0 1 0 8 0a4 4 0 1 0 -8 0M1619.4 282.7a4 4 0 1 0 8 0a4 4 0 1 0 -8 0M1634.4 284.4a4 4 0 1 0 8 0a4 4 0 1 0 -8 0M1657 282.7a4 4 0 1 0 8 0a4 4 0 1 0 -8 0M1672.8 281.9a4 4 0 1 0 8 0a4 4 0 1 0 -8 0M1691.2 284.4a4 4 0 1 0 8 0a4 4 0 1 0 -8 0M1682 290.2a4 4 0 1 0 8 0a4 4 0 1 0 -8 0M1708.7 252.7a4 4 0 1 0 8 0a4 4 0 1 0 -8 0M1719.5 251a4 4 0 1 0 8 0a4 4 0 1 0 -8 0M1712.8 260.2a4 4 0 1 0 8 0a4 4 0 1 0 -8 0M1717 263.5a4 4 0 1 0 8 0a4 4 0 1 0 -8 0M1728.7 285.2a4 4 0 1 0 8 0a4 4 0 1 0 -8 0M1734.5 286.9a4 4 0 1 0 8 0a4 4 0 1 0 -8 0M1667 297.2a4 4 0 1 0 8 0a4 4 0 1 0 -8 0M1651.1 299.4a4 4 0 1 0 8 0a4 4 0 1 0 -8 0M1640.3 297.7a4 4 0 1 0 8 0a4 4 0 1 0 -8 0M1626.9 296.9a4 4 0 1 0 8 0a4 4 0 1 0 -8 0M1622.8 299.4a4 4 0 1 0 8 0a4 4 0 1 0 -8 0M1594.4 296.9a4 4 0 1 0 8 0a4 4 0 1 0 -8 0M1589.4 301.1a4 4 0 1 0 8 0a4 4 0 1 0 -8 0M1582.7 281.9a4 4 0 1 0 8 0a4 4 0 1 0 -8 0M1582.7 303.6a4 4 0 1 0 8 0a4 4 0 1 0 -8 0M1642.8 230.2a4 4 0 1 0 8 0a4 4 0 1 0 -8 0M1649.4 235.2a4 4 0 1 0 8 0a4 4 0 1 0 -8 0M1656.1 233.5a4 4 0 1 0 8 0a4 4 0 1 0 -8 0M1662.8 238.5a4 4 0 1 0 8 0a4 4 0 1 0 -8 0M1669.5 230.2a4 4 0 1 0 8 0a4 4 0 1 0 -8 0M1642.8 240.2a4 4 0 1 0 8 0a4 4 0 1 0 -8 0M1637.8 235.2a4 4 0 1 0 8 0a4 4 0 1 0 -8 0M1629.4 238.5a4 4 0 1 0 8 0a4 4 0 1 0 -8 0M1624.4 230.2a4 4 0 1 0 8 0a4 4 0 1 0 -8 0M1656.1 220.2a4 4 0 1 0 8 0a4 4 0 1 0 -8 0M1666.1 216.8a4 4 0 1 0 8 0a4 4 0 1 0 -8 0M1674.5 223.5a4 4 0 1 0 8 0a4 4 0 1 0 -8 0M1651.1 246.8a4 4 0 1 0 8 0a4 4 0 1 0 -8 0M1659.5 250.2a4 4 0 1 0 8 0a4 4 0 1 0 -8 0M1669.5 251.8a4 4 0 1 0 8 0a4 4 0 1 0 -8 0M1674.5 243.5a4 4 0 1 0 8 0a4 4 0 1 0 -8 0M1584.2 248.5a4 4 0 1 0 8 0a4 4 0 1 0 -8 0M1582.9 257.7a4 4 0 1 0 8 0a4 4 0 1 0 -8 0M1583.5 266.9a4 4 0 1 0 8 0a4 4 0 1 0 -8 0M1584.2 276a4 4 0 1 0 8 0a4 4 0 1 0 -8 0M1582.9 285.2a4 4 0 1 0 8 0a4 4 0 1 0 -8 0M1583.5 294.4a4 4 0 1 0 8 0a4 4 0 1 0 -8 0M1591.7 248.5a4 4 0 1 0 8 0a4 4 0 1 0 -8 0M1590.4 257.7a4 4 0 1 0 8 0a4 4 0 1 0 -8 0M1591.1 266.9a4 4 0 1 0 8 0a4 4 0 1 0 -8 0M1591.7 276a4 4 0 1 0 8 0a4 4 0 1 0 -8 0M1590.4 285.2a4 4 0 1 0 8 0a4 4 0 1 0 -8 0M1591.1 294.4a4 4 0 1 0 8 0a4 4 0 1 0 -8 0M1600.1 248.5a4 4 0 1 0 8 0a4 4 0 1 0 -8 0M1598.7 257.7a4 4 0 1 0 8 0a4 4 0 1 0 -8 0M1599.4 266.9a4 4 0 1 0 8 0a4 4 0 1 0 -8 0M1600.1 276a4 4 0 1 0 8 0a4 4 0 1 0 -8 0M1598.7 285.2a4 4 0 1 0 8 0a4 4 0 1 0 -8 0M1599.4 294.4a4 4 0 1 0 8 0a4 4 0 1 0 -8 0M1608.4 248.5a4 4 0 1 0 8 0a4 4 0 1 0 -8 0M1607.1 257.7a4 4 0 1 0 8 0a4 4 0 1 0 -8 0M1607.7 266.9a4 4 0 1 0 8 0a4 4 0 1 0 -8 0M1608.4 276a4 4 0 1 0 8 0a4 4 0 1 0 -8 0M1607.1 285.2a4 4 0 1 0 8 0a4 4 0 1 0 -8 0M1607.7 294.4a4 4 0 1 0 8 0a4 4 0 1 0 -8 0M1665.3 234.2a4 4 0 1 0 8 0a4 4 0 1 0 -8 0M1653.4 237.2a4 4 0 1 0 8 0a4 4 0 1 0 -8 0M1635.5 256a4 4 0 1 0 8 0a4 4 0 1 0 -8 0M468.7 291.7a4 4 0 1 0 8 0a4 4 0 1 0 -8 0M397 310.5a4 4 0 1 0 8 0a4 4 0 1 0 -8 0M432.8 314.2a4 4 0 1 0 8 0a4 4 0 1 0 -8 0M435.3 319.2a4 4 0 1 0 8 0a4 4 0 1 0 -8 0M430.8 324.2a4 4 0 1 0 8 0a4 4 0 1 0 -8 0M333.9 319.2a4 4 0 1 0 8 0a4 4 0 1 0 -8 0M386.1 319.2a4 4 0 1 0 8 0a4 4 0 1 0 -8 0M407.8 321.7a4 4 0 1 0 8 0a4 4 0 1 0 -8 0M482.9 320a4 4 0 1 0 8 0a4 4 0 1 0 -8 0M362.8 328.7a4 4 0 1 0 8 0a4 4 0 1 0 -8 0M390.8 331.7a4 4 0 1 0 8 0a4 4 0 1 0 -8 0M440.8 330.9a4 4 0 1 0 8 0a4 4 0 1 0 -8 0M447.5 334.5a4 4 0 1 0 8 0a4 4 0 1 0 -8 0M547.9 335.4a4 4 0 1 0 8 0a4 4 0 1 0 -8 0M608.5 334.2a4 4 0 1 0 8 0a4 4 0 1 0 -8 0M373.6 345.9a4 4 0 1 0 8 0a4 4 0 1 0 -8 0M370.8 357.9a4 4 0 1 0 8 0a4 4 0 1 0 -8 0M393.3 357.1a4 4 0 1 0 8 0a4 4 0 1 0 -8 0M467.9 370.1a4 4 0 1 0 8 0a4 4 0 1 0 -8 0M397 396.4a4 4 0 1 0 8 0a4 4 0 1 0 -8 0M375.8 405.6a4 4 0 1 0 8 0a4 4 0 1 0 -8 0M402.8 413.1a4 4 0 1 0 8 0a4 4 0 1 0 -8 0M374.8 417.1a4 4 0 1 0 8 0a4 4 0 1 0 -8 0M447.5 416.5a4 4 0 1 0 8 0a4 4 0 1 0 -8 0M482.9 419.8a4 4 0 1 0 8 0a4 4 0 1 0 -8 0M444.8 428.5a4 4 0 1 0 8 0a4 4 0 1 0 -8 0M407.8 477.7a4 4 0 1 0 8 0a4 4 0 1 0 -8 0M663.6 291.3a4 4 0 1 0 8 0a4 4 0 1 0 -8 0M676.1 291.7a4 4 0 1 0 8 0a4 4 0 1 0 -8 0M747 293.7a4 4 0 1 0 8 0a4 4 0 1 0 -8 0M800.9 291.7a4 4 0 1 0 8 0a4 4 0 1 0 -8 0M717.8 298.3a4 4 0 1 0 8 0a4 4 0 1 0 -8 0M711.4 303.3a4 4 0 1 0 8 0a4 4 0 1 0 -8 0M717.3 305.3a4 4 0 1 0 8 0a4 4 0 1 0 -8 0M700.6 308.7a4 4 0 1 0 8 0a4 4 0 1 0 -8 0M747.8 308.7a4 4 0 1 0 8 0a4 4 0 1 0 -8 0M800.9 307.9a4 4 0 1 0 8 0a4 4 0 1 0 -8 0M842.6 307.9a4 4 0 1 0 8 0a4 4 0 1 0 -8 0M718.1 323.4a4 4 0 1 0 8 0a4 4 0 1 0 -8 0M789.9 320.9a4 4 0 1 0 8 0a4 4 0 1 0 -8 0M769.8 328a4 4 0 1 0 8 0a4 4 0 1 0 -8 0M800.4 334.2a4 4 0 1 0 8 0a4 4 0 1 0 -8 0M892.6 325a4 4 0 1 0 8 0a4 4 0 1 0 -8 0M916 323.9a4 4 0 1 0 8 0a4 4 0 1 0 -8 0M931.8 318.9a4 4 0 1 0 8 0a4 4 0 1 0 -8 0M676.1 337a4 4 0 1 0 8 0a4 4 0 1 0 -8 0M651.6 345.9a4 4 0 1 0 8 0a4 4 0 1 0 -8 0M663.6 350.9a4 4 0 1 0 8 0a4 4 0 1 0 -8 0M711.6 353.1a4 4 0 1 0 8 0a4 4 0 1 0 -8 0M718.1 357.1a4 4 0 1 0 8 0a4 4 0 1 0 -8 0M842.6 350.1a4 4 0 1 0 8 0a4 4 0 1 0 -8 0M747 363.7a4 4 0 1 0 8 0a4 4 0 1 0 -8 0M800.4 371.7a4 4 0 1 0 8 0a4 4 0 1 0 -8 0M789.9 378.4a4 4 0 1 0 8 0a4 4 0 1 0 -8 0M700.6 382.9a4 4 0 1 0 8 0a4 4 0 1 0 -8 0M717 411a4 4 0 1 0 8 0a4 4 0 1 0 -8 0M769.8 409a4 4 0 1 0 8 0a4 4 0 1 0 -8 0M931.8 411a4 4 0 1 0 8 0a4 4 0 1 0 -8 0M676.1 429.8a4 4 0 1 0 8 0a4 4 0 1 0 -8 0M842.6 433.5a4 4 0 1 0 8 0a4 4 0 1 0 -8 0M800.4 439a4 4 0 1 0 8 0a4 4 0 1 0 -8 0M892.6 451.8a4 4 0 1 0 8 0a4 4 0 1 0 -8 0M916 448a4 4 0 1 0 8 0a4 4 0 1 0 -8 0M711.9 459.3a4 4 0 1 0 8 0a4 4 0 1 0 -8 0M946 316.4a4 4 0 1 0 8 0a4 4 0 1 0 -8 0M953 316.4a4 4 0 1 0 8 0a4 4 0 1 0 -8 0M981.9 304.2a4 4 0 1 0 8 0a4 4 0 1 0 -8 0M972.7 335.5a4 4 0 1 0 8 0a4 4 0 1 0 -8 0M995.7 331.7a4 4 0 1 0 8 0a4 4 0 1 0 -8 0M1006.9 317.5a4 4 0 1 0 8 0a4 4 0 1 0 -8 0M1017.8 297.5a4 4 0 1 0 8 0a4 4 0 1 0 -8 0M1025.8 303.3a4 4 0 1 0 8 0a4 4 0 1 0 -8 0M1034 308.7a4 4 0 1 0 8 0a4 4 0 1 0 -8 0M1034.5 293.3a4 4 0 1 0 8 0a4 4 0 1 0 -8 0M1050 293.7a4 4 0 1 0 8 0a4 4 0 1 0 -8 0M1067 294.7a4 4 0 1 0 8 0a4 4 0 1 0 -8 0M1077 298.7a4 4 0 1 0 8 0a4 4 0 1 0 -8 0M1098.7 291.3a4 4 0 1 0 8 0a4 4 0 1 0 -8 0M1112 290.8a4 4 0 1 0 8 0a4 4 0 1 0 -8 0M1110.9 302a4 4 0 1 0 8 0a4 4 0 1 0 -8 0M1130 296.7a4 4 0 1 0 8 0a4 4 0 1 0 -8 0M1152.1 292.5a4 4 0 1 0 8 0a4 4 0 1 0 -8 0M1152.1 299.2a4 4 0 1 0 8 0a4 4 0 1 0 -8 0M1182.1 295.8a4 4 0 1 0 8 0a4 4 0 1 0 -8 0M1213 292.5a4 4 0 1 0 8 0a4 4 0 1 0 -8 0M1213 298.7a4 4 0 1 0 8 0a4 4 0 1 0 -8 0M1242.2 294.7a4 4 0 1 0 8 0a4 4 0 1 0 -8 0M1242.2 302.5a4 4 0 1 0 8 0a4 4 0 1 0 -8 0M1242.2 310.9a4 4 0 1 0 8 0a4 4 0 1 0 -8 0M1050 316.4a4 4 0 1 0 8 0a4 4 0 1 0 -8 0M1077 317a4 4 0 1 0 8 0a4 4 0 1 0 -8 0M1067 321.7a4 4 0 1 0 8 0a4 4 0 1 0 -8 0M1099 311.7a4 4 0 1 0 8 0a4 4 0 1 0 -8 0M1110.9 317.2a4 4 0 1 0 8 0a4 4 0 1 0 -8 0M1130 309.7a4 4 0 1 0 8 0a4 4 0 1 0 -8 0M1152.1 309.7a4 4 0 1 0 8 0a4 4 0 1 0 -8 0M1182.1 304.2a4 4 0 1 0 8 0a4 4 0 1 0 -8 0M1213 308.7a4 4 0 1 0 8 0a4 4 0 1 0 -8 0M1034 329.2a4 4 0 1 0 8 0a4 4 0 1 0 -8 0M1017.8 334.2a4 4 0 1 0 8 0a4 4 0 1 0 -8 0M1025.8 340.4a4 4 0 1 0 8 0a4 4 0 1 0 -8 0M1077 340.4a4 4 0 1 0 8 0a4 4 0 1 0 -8 0M1099 342.1a4 4 0 1 0 8 0a4 4 0 1 0 -8 0M1110.9 338.9a4 4 0 1 0 8 0a4 4 0 1 0 -8 0M1130 324.7a4 4 0 1 0 8 0a4 4 0 1 0 -8 0M1152.1 321.7a4 4 0 1 0 8 0a4 4 0 1 0 -8 0M1182.1 317a4 4 0 1 0 8 0a4 4 0 1 0 -8 0M1213 320.9a4 4 0 1 0 8 0a4 4 0 1 0 -8 0M1242.2 321.7a4 4 0 1 0 8 0a4 4 0 1 0 -8 0M1050 348.1a4 4 0 1 0 8 0a4 4 0 1 0 -8 0M981.9 355.9a4 4 0 1 0 8 0a4 4 0 1 0 -8 0M1034 358.7a4 4 0 1 0 8 0a4 4 0 1 0 -8 0M1130 347.6a4 4 0 1 0 8 0a4 4 0 1 0 -8 0M1152.1 338.9a4 4 0 1 0 8 0a4 4 0 1 0 -8 0M1182.1 333a4 4 0 1 0 8 0a4 4 0 1 0 -8 0M1212.1 336.7a4 4 0 1 0 8 0a4 4 0 1 0 -8 0M1241 335a4 4 0 1 0 8 0a4 4 0 1 0 -8 0M951.9 364.7a4 4 0 1 0 8 0a4 4 0 1 0 -8 0M1152.1 360.9a4 4 0 1 0 8 0a4 4 0 1 0 -8 0M1182.1 354.2a4 4 0 1 0 8 0a4 4 0 1 0 -8 0M1212.1 358.7a4 4 0 1 0 8 0a4 4 0 1 0 -8 0M1241 353.1a4 4 0 1 0 8 0a4 4 0 1 0 -8 0M1110.9 369.7a4 4 0 1 0 8 0a4 4 0 1 0 -8 0M1067 376.8a4 4 0 1 0 8 0a4 4 0 1 0 -8 0M1077 374.8a4 4 0 1 0 8 0a4 4 0 1 0 -8 0M1006.9 382.6a4 4 0 1 0 8 0a4 4 0 1 0 -8 0M1130 378.9a4 4 0 1 0 8 0a4 4 0 1 0 -8 0M1182.1 382.6a4 4 0 1 0 8 0a4 4 0 1 0 -8 0M1241 376.8a4 4 0 1 0 8 0a4 4 0 1 0 -8 0M1110.9 390.6a4 4 0 1 0 8 0a4 4 0 1 0 -8 0M1099 397.3a4 4 0 1 0 8 0a4 4 0 1 0 -8 0M1152.1 393.9a4 4 0 1 0 8 0a4 4 0 1 0 -8 0M1212.1 389.8a4 4 0 1 0 8 0a4 4 0 1 0 -8 0M946 403.9a4 4 0 1 0 8 0a4 4 0 1 0 -8 0M1017.8 406.8a4 4 0 1 0 8 0a4 4 0 1 0 -8 0M1025.8 409.6a4 4 0 1 0 8 0a4 4 0 1 0 -8 0M1034 403.9a4 4 0 1 0 8 0a4 4 0 1 0 -8 0M1050 402.6a4 4 0 1 0 8 0a4 4 0 1 0 -8 0M1152.1 409.6a4 4 0 1 0 8 0a4 4 0 1 0 -8 0M1241 411.8a4 4 0 1 0 8 0a4 4 0 1 0 -8 0M995.7 426a4 4 0 1 0 8 0a4 4 0 1 0 -8 0M1077 424.8a4 4 0 1 0 8 0a4 4 0 1 0 -8 0M1110.9 422.3a4 4 0 1 0 8 0a4 4 0 1 0 -8 0M1130 433.5a4 4 0 1 0 8 0a4 4 0 1 0 -8 0M1180.9 432.1a4 4 0 1 0 8 0a4 4 0 1 0 -8 0M1212.1 440.5a4 4 0 1 0 8 0a4 4 0 1 0 -8 0M1241 458.5a4 4 0 1 0 8 0a4 4 0 1 0 -8 0M951.9 474.9a4 4 0 1 0 8 0a4 4 0 1 0 -8 0M972.7 478a4 4 0 1 0 8 0a4 4 0 1 0 -8 0M981.9 484.7a4 4 0 1 0 8 0a4 4 0 1 0 -8 0M1034 494.9a4 4 0 1 0 8 0a4 4 0 1 0 -8 0M1602.7 291.7a4 4 0 1 0 8 0a4 4 0 1 0 -8 0M1602.7 305.3a4 4 0 1 0 8 0a4 4 0 1 0 -8 0M1594.4 308.7a4 4 0 1 0 8 0a4 4 0 1 0 -8 0M1609.4 315a4 4 0 1 0 8 0a4 4 0 1 0 -8 0M1619.8 311.7a4 4 0 1 0 8 0a4 4 0 1 0 -8 0M1646.1 300.8a4 4 0 1 0 8 0a4 4 0 1 0 -8 0M1642.8 309.7a4 4 0 1 0 8 0a4 4 0 1 0 -8 0M1651.1 316.4a4 4 0 1 0 8 0a4 4 0 1 0 -8 0M1652.8 322a4 4 0 1 0 8 0a4 4 0 1 0 -8 0M1662 312.5a4 4 0 1 0 8 0a4 4 0 1 0 -8 0M1664.1 320.9a4 4 0 1 0 8 0a4 4 0 1 0 -8 0M1634.8 322.5a4 4 0 1 0 8 0a4 4 0 1 0 -8 0M1623.6 328.7a4 4 0 1 0 8 0a4 4 0 1 0 -8 0M1629.1 330.9a4 4 0 1 0 8 0a4 4 0 1 0 -8 0M1677.8 328.7a4 4 0 1 0 8 0a4 4 0 1 0 -8 0M1694.5 332.9a4 4 0 1 0 8 0a4 4 0 1 0 -8 0M1594.4 322.5a4 4 0 1 0 8 0a4 4 0 1 0 -8 0M1590.2 325.9a4 4 0 1 0 8 0a4 4 0 1 0 -8 0M1602.4 325a4 4 0 1 0 8 0a4 4 0 1 0 -8 0M1582.7 334.2a4 4 0 1 0 8 0a4 4 0 1 0 -8 0M1594.7 343.1a4 4 0 1 0 8 0a4 4 0 1 0 -8 0M1609.4 343.7a4 4 0 1 0 8 0a4 4 0 1 0 -8 0M1618.9 348.1a4 4 0 1 0 8 0a4 4 0 1 0 -8 0M1602.4 352.9a4 4 0 1 0 8 0a4 4 0 1 0 -8 0M1645.3 348.9a4 4 0 1 0 8 0a4 4 0 1 0 -8 0M1590.7 362.9a4 4 0 1 0 8 0a4 4 0 1 0 -8 0M1639.4 362.9a4 4 0 1 0 8 0a4 4 0 1 0 -8 0M1594.7 371.2a4 4 0 1 0 8 0a4 4 0 1 0 -8 0M1609.4 372.9a4 4 0 1 0 8 0a4 4 0 1 0 -8 0M1657.3 370.9a4 4 0 1 0 8 0a4 4 0 1 0 -8 0M1682.5 368.4a4 4 0 1 0 8 0a4 4 0 1 0 -8 0M1677.5 374.8a4 4 0 1 0 8 0a4 4 0 1 0 -8 0M1701.2 376.3a4 4 0 1 0 8 0a4 4 0 1 0 -8 0M1582.7 378.4a4 4 0 1 0 8 0a4 4 0 1 0 -8 0M1633.6 378.4a4 4 0 1 0 8 0a4 4 0 1 0 -8 0M1642.8 380.1a4 4 0 1 0 8 0a4 4 0 1 0 -8 0M1670.8 383.9a4 4 0 1 0 8 0a4 4 0 1 0 -8 0M1582.7 391.8a4 4 0 1 0 8 0a4 4 0 1 0 -8 0M1609.4 391.4a4 4 0 1 0 8 0a4 4 0 1 0 -8 0M1602.4 396.4a4 4 0 1 0 8 0a4 4 0 1 0 -8 0M1623.6 394.8a4 4 0 1 0 8 0a4 4 0 1 0 -8 0M1628.6 400.4a4 4 0 1 0 8 0a4 4 0 1 0 -8 0M1634.4 401.8a4 4 0 1 0 8 0a4 4 0 1 0 -8 0M1594.7 414a4 4 0 1 0 8 0a4 4 0 1 0 -8 0M1590.7 436a4 4 0 1 0 8 0a4 4 0 1 0 -8 0M1618.9 434.8a4 4 0 1 0 8 0a4 4 0 1 0 -8 0M1649.9 447.2a4 4 0 1 0 8 0a4 4 0 1 0 -8 0M1645.3 477.4a4 4 0 1 0 8 0a4 4 0 1 0 -8 0M1582.7 481.9a4 4 0 1 0 8 0a4 4 0 1 0 -8 0M1601.9 484.4a4 4 0 1 0 8 0a4 4 0 1 0 -8 0M1594.7 501a4 4 0 1 0 8 0a4 4 0 1 0 -8 0M1704.8 496.9a4 4 0 1 0 8 0a4 4 0 1 0 -8 0M287.7 564.4a4 4 0 1 0 8 0a4 4 0 1 0 -8 0M291 576.7a4 4 0 1 0 8 0a4 4 0 1 0 -8 0M294.4 586.7a4 4 0 1 0 8 0a4 4 0 1 0 -8 0M296 607.8a4 4 0 1 0 8 0a4 4 0 1 0 -8 0M305.4 625.8a4 4 0 1 0 8 0a4 4 0 1 0 -8 0M315 625.1a4 4 0 1 0 8 0a4 4 0 1 0 -8 0M389.4 576.7a4 4 0 1 0 8 0a4 4 0 1 0 -8 0M441.2 609.1a4 4 0 1 0 8 0a4 4 0 1 0 -8 0M547.9 598.4a4 4 0 1 0 8 0a4 4 0 1 0 -8 0M662.4 583.4a4 4 0 1 0 8 0a4 4 0 1 0 -8 0M789.8 582.7a4 4 0 1 0 8 0a4 4 0 1 0 -8 0M334.4 656.5a4 4 0 1 0 8 0a4 4 0 1 0 -8 0M342.1 663.1a4 4 0 1 0 8 0a4 4 0 1 0 -8 0M392.8 655.1a4 4 0 1 0 8 0a4 4 0 1 0 -8 0M608.3 647.8a4 4 0 1 0 8 0a4 4 0 1 0 -8 0M799.9 670.2a4 4 0 1 0 8 0a4 4 0 1 0 -8 0M700.4 698.5a4 4 0 1 0 8 0a4 4 0 1 0 -8 0M353.7 710.9a4 4 0 1 0 8 0a4 4 0 1 0 -8 0M321 719.2a4 4 0 1 0 8 0a4 4 0 1 0 -8 0M356.7 723.9a4 4 0 1 0 8 0a4 4 0 1 0 -8 0M467.9 722.9a4 4 0 1 0 8 0a4 4 0 1 0 -8 0M384.8 736.6a4 4 0 1 0 8 0a4 4 0 1 0 -8 0M651.4 737.9a4 4 0 1 0 8 0a4 4 0 1 0 -8 0M327.7 750.9a4 4 0 1 0 8 0a4 4 0 1 0 -8 0M331.4 761.6a4 4 0 1 0 8 0a4 4 0 1 0 -8 0M447.2 773.6a4 4 0 1 0 8 0a4 4 0 1 0 -8 0M368.8 802a4 4 0 1 0 8 0a4 4 0 1 0 -8 0M769.8 806a4 4 0 1 0 8 0a4 4 0 1 0 -8 0M951.7 774.6a4 4 0 1 0 8 0a4 4 0 1 0 -8 0M842.2 856a4 4 0 1 0 8 0a4 4 0 1 0 -8 0M366.8 941.4a4 4 0 1 0 8 0a4 4 0 1 0 -8 0M395.5 962.1a4 4 0 1 0 8 0a4 4 0 1 0 -8 0M402.8 974.5a4 4 0 1 0 8 0a4 4 0 1 0 -8 0M675.7 959.4a4 4 0 1 0 8 0a4 4 0 1 0 -8 0M945.7 967.1a4 4 0 1 0 8 0a4 4 0 1 0 -8 0M1048.8 549.7a4 4 0 1 0 8 0a4 4 0 1 0 -8 0M1180.6 556.7a4 4 0 1 0 8 0a4 4 0 1 0 -8 0M1111.2 564.4a4 4 0 1 0 8 0a4 4 0 1 0 -8 0M1098.8 574.1a4 4 0 1 0 8 0a4 4 0 1 0 -8 0M1066.8 581.1a4 4 0 1 0 8 0a4 4 0 1 0 -8 0M1211.9 576.1a4 4 0 1 0 8 0a4 4 0 1 0 -8 0M1129.5 592.1a4 4 0 1 0 8 0a4 4 0 1 0 -8 0M1151.2 600.8a4 4 0 1 0 8 0a4 4 0 1 0 -8 0M1335.7 530a4 4 0 1 0 8 0a4 4 0 1 0 -8 0M1423.1 518.3a4 4 0 1 0 8 0a4 4 0 1 0 -8 0M1401.8 539.4a4 4 0 1 0 8 0a4 4 0 1 0 -8 0M1365.1 546a4 4 0 1 0 8 0a4 4 0 1 0 -8 0M1430.8 544a4 4 0 1 0 8 0a4 4 0 1 0 -8 0M1334.7 575.1a4 4 0 1 0 8 0a4 4 0 1 0 -8 0M1391.8 588.4a4 4 0 1 0 8 0a4 4 0 1 0 -8 0M1299.7 594.4a4 4 0 1 0 8 0a4 4 0 1 0 -8 0M1321.7 595.4a4 4 0 1 0 8 0a4 4 0 1 0 -8 0M1514.9 559a4 4 0 1 0 8 0a4 4 0 1 0 -8 0M1509.2 563.4a4 4 0 1 0 8 0a4 4 0 1 0 -8 0M1535.9 552.4a4 4 0 1 0 8 0a4 4 0 1 0 -8 0M1623.3 605.8a4 4 0 1 0 8 0a4 4 0 1 0 -8 0M1537.6 612.1a4 4 0 1 0 8 0a4 4 0 1 0 -8 0M1561.9 619.8a4 4 0 1 0 8 0a4 4 0 1 0 -8 0M1491.2 624.8a4 4 0 1 0 8 0a4 4 0 1 0 -8 0M1430.8 630.1a4 4 0 1 0 8 0a4 4 0 1 0 -8 0M1423.1 636.1a4 4 0 1 0 8 0a4 4 0 1 0 -8 0M1076.8 634.8a4 4 0 1 0 8 0a4 4 0 1 0 -8 0M1006.7 645.8a4 4 0 1 0 8 0a4 4 0 1 0 -8 0M1334.7 650.1a4 4 0 1 0 8 0a4 4 0 1 0 -8 0M1401.8 650.1a4 4 0 1 0 8 0a4 4 0 1 0 -8 0M1240.6 669.5a4 4 0 1 0 8 0a4 4 0 1 0 -8 0M1363.8 712.5a4 4 0 1 0 8 0a4 4 0 1 0 -8 0M1561.9 714.2a4 4 0 1 0 8 0a4 4 0 1 0 -8 0M1017.7 728.9a4 4 0 1 0 8 0a4 4 0 1 0 -8 0M1026.1 735.2a4 4 0 1 0 8 0a4 4 0 1 0 -8 0M1423.1 765.9a4 4 0 1 0 8 0a4 4 0 1 0 -8 0M1590.3 770.3a4 4 0 1 0 8 0a4 4 0 1 0 -8 0M1332.7 781.9a4 4 0 1 0 8 0a4 4 0 1 0 -8 0M1180.6 810a4 4 0 1 0 8 0a4 4 0 1 0 -8 0M1334.7 842.7a4 4 0 1 0 8 0a4 4 0 1 0 -8 0M1465.9 843.3a4 4 0 1 0 8 0a4 4 0 1 0 -8 0M1553.3 863a4 4 0 1 0 8 0a4 4 0 1 0 -8 0M1430.8 876a4 4 0 1 0 8 0a4 4 0 1 0 -8 0M1601.7 920.1a4 4 0 1 0 8 0a4 4 0 1 0 -8 0M1593.6 926.1a4 4 0 1 0 8 0a4 4 0 1 0 -8 0M1558.6 947.1a4 4 0 1 0 8 0a4 4 0 1 0 -8 0M1033.8 941.1a4 4 0 1 0 8 0a4 4 0 1 0 -8 0M1662.1 541a4 4 0 1 0 8 0a4 4 0 1 0 -8 0M1671.5 584.8a4 4 0 1 0 8 0a4 4 0 1 0 -8 0M1695.9 598.9a4 4 0 1 0 8 0a4 4 0 1 0 -8 0M1639.6 666.8a4 4 0 1 0 8 0a4 4 0 1 0 -8 0M1666.2 695a4 4 0 1 0 8 0a4 4 0 1 0 -8 0M1628.6 789.9a4 4 0 1 0 8 0a4 4 0 1 0 -8 0M1642.7 820.9a4 4 0 1 0 8 0a4 4 0 1 0 -8 0M931.7 1001.7a4 4 0 1 0 8 0a4 4 0 1 0 -8 0M482.9 1085.8a4 4 0 1 0 8 0a4 4 0 1 0 -8 0M717.1 1117.5a4 4 0 1 0 8 0a4 4 0 1 0 -8 0M711.8 1130.8a4 4 0 1 0 8 0a4 4 0 1 0 -8 0M430.5 1138.2a4 4 0 1 0 8 0a4 4 0 1 0 -8 0M1391.8 994.7a4 4 0 1 0 8 0a4 4 0 1 0 -8 0M1536.6 1024.7a4 4 0 1 0 8 0a4 4 0 1 0 -8 0M996.1 1104.8a4 4 0 1 0 8 0a4 4 0 1 0 -8 0M1401.8 1130.2a4 4 0 1 0 8 0a4 4 0 1 0 -8 0M468.7 291.9a4 4 0 1 0 8 0a4 4 0 1 0 -8 0M468.7 249.3a4 4 0 1 0 8 0a4 4 0 1 0 -8 0M468.7 231.8a4 4 0 1 0 8 0a4 4 0 1 0 -8 0M468.7 215.1a4 4 0 1 0 8 0a4 4 0 1 0 -8 0M468.7 203.5a4 4 0 1 0 8 0a4 4 0 1 0 -8 0M468.7 193.5a4 4 0 1 0 8 0a4 4 0 1 0 -8 0M482.9 273.5a4 4 0 1 0 8 0a4 4 0 1 0 -8 0M482.9 247.7a4 4 0 1 0 8 0a4 4 0 1 0 -8 0M482.9 227.7a4 4 0 1 0 8 0a4 4 0 1 0 -8 0M482.9 215.1a4 4 0 1 0 8 0a4 4 0 1 0 -8 0M482.9 206.8a4 4 0 1 0 8 0a4 4 0 1 0 -8 0M548.8 271.9a4 4 0 1 0 8 0a4 4 0 1 0 -8 0M548.8 236.8a4 4 0 1 0 8 0a4 4 0 1 0 -8 0M548.8 215.1a4 4 0 1 0 8 0a4 4 0 1 0 -8 0M548.8 199.8a4 4 0 1 0 8 0a4 4 0 1 0 -8 0M548.8 189.3a4 4 0 1 0 8 0a4 4 0 1 0 -8 0M609.3 267.7a4 4 0 1 0 8 0a4 4 0 1 0 -8 0M609.3 231.8a4 4 0 1 0 8 0a4 4 0 1 0 -8 0M609.3 209.8a4 4 0 1 0 8 0a4 4 0 1 0 -8 0M609.3 196a4 4 0 1 0 8 0a4 4 0 1 0 -8 0M651.4 272.7a4 4 0 1 0 8 0a4 4 0 1 0 -8 0M651.4 235.7a4 4 0 1 0 8 0a4 4 0 1 0 -8 0M651.4 212.1a4 4 0 1 0 8 0a4 4 0 1 0 -8 0M651.4 197.1a4 4 0 1 0 8 0a4 4 0 1 0 -8 0M651.4 185.9a4 4 0 1 0 8 0a4 4 0 1 0 -8 0M663.6 290.2a4 4 0 1 0 8 0a4 4 0 1 0 -8 0M663.6 255.2a4 4 0 1 0 8 0a4 4 0 1 0 -8 0M663.6 232.7a4 4 0 1 0 8 0a4 4 0 1 0 -8 0M663.6 217.6a4 4 0 1 0 8 0a4 4 0 1 0 -8 0M676.4 291.6a4 4 0 1 0 8 0a4 4 0 1 0 -8 0M676.4 263.9a4 4 0 1 0 8 0a4 4 0 1 0 -8 0M676.4 244.3a4 4 0 1 0 8 0a4 4 0 1 0 -8 0M676.4 230.5a4 4 0 1 0 8 0a4 4 0 1 0 -8 0M676.4 220.2a4 4 0 1 0 8 0a4 4 0 1 0 -8 0M700.8 270.2a4 4 0 1 0 8 0a4 4 0 1 0 -8 0M700.8 244.8a4 4 0 1 0 8 0a4 4 0 1 0 -8 0M700.8 226.8a4 4 0 1 0 8 0a4 4 0 1 0 -8 0M700.8 215.1a4 4 0 1 0 8 0a4 4 0 1 0 -8 0M711.4 272.7a4 4 0 1 0 8 0a4 4 0 1 0 -8 0M711.4 251.8a4 4 0 1 0 8 0a4 4 0 1 0 -8 0M711.4 236.8a4 4 0 1 0 8 0a4 4 0 1 0 -8 0M711.4 226a4 4 0 1 0 8 0a4 4 0 1 0 -8 0M717.8 298.6a4 4 0 1 0 8 0a4 4 0 1 0 -8 0M717.8 281.9a4 4 0 1 0 8 0a4 4 0 1 0 -8 0M717.8 268.5a4 4 0 1 0 8 0a4 4 0 1 0 -8 0M717.8 258.2a4 4 0 1 0 8 0a4 4 0 1 0 -8 0M717.8 249.8a4 4 0 1 0 8 0a4 4 0 1 0 -8 0M747 136.7a4 4 0 1 0 8 0a4 4 0 1 0 -8 0M747.5 293.6a4 4 0 1 0 8 0a4 4 0 1 0 -8 0M747.5 276a4 4 0 1 0 8 0a4 4 0 1 0 -8 0M747.5 254.4a4 4 0 1 0 8 0a4 4 0 1 0 -8 0M747.5 237.7a4 4 0 1 0 8 0a4 4 0 1 0 -8 0M747.5 226.8a4 4 0 1 0 8 0a4 4 0 1 0 -8 0M770.3 286.5a4 4 0 1 0 8 0a4 4 0 1 0 -8 0M770.3 260.5a4 4 0 1 0 8 0a4 4 0 1 0 -8 0M770.3 242.2a4 4 0 1 0 8 0a4 4 0 1 0 -8 0M770.3 229.3a4 4 0 1 0 8 0a4 4 0 1 0 -8 0M770.3 220.2a4 4 0 1 0 8 0a4 4 0 1 0 -8 0M790.4 286.9a4 4 0 1 0 8 0a4 4 0 1 0 -8 0M790.4 263.9a4 4 0 1 0 8 0a4 4 0 1 0 -8 0M790.4 248.8a4 4 0 1 0 8 0a4 4 0 1 0 -8 0M790.4 236.5a4 4 0 1 0 8 0a4 4 0 1 0 -8 0M790.4 227.7a4 4 0 1 0 8 0a4 4 0 1 0 -8 0M800.9 291.6a4 4 0 1 0 8 0a4 4 0 1 0 -8 0M800.9 276.9a4 4 0 1 0 8 0a4 4 0 1 0 -8 0M800.9 266.9a4 4 0 1 0 8 0a4 4 0 1 0 -8 0M800.9 258.5a4 4 0 1 0 8 0a4 4 0 1 0 -8 0M842.6 280.5a4 4 0 1 0 8 0a4 4 0 1 0 -8 0M842.6 261.9a4 4 0 1 0 8 0a4 4 0 1 0 -8 0M842.6 249.3a4 4 0 1 0 8 0a4 4 0 1 0 -8 0M842.6 239.3a4 4 0 1 0 8 0a4 4 0 1 0 -8 0M893.3 277.2a4 4 0 1 0 8 0a4 4 0 1 0 -8 0M893.3 247.7a4 4 0 1 0 8 0a4 4 0 1 0 -8 0M893.3 228.5a4 4 0 1 0 8 0a4 4 0 1 0 -8 0M893.3 216a4 4 0 1 0 8 0a4 4 0 1 0 -8 0M892.1 139.2a4 4 0 1 0 8 0a4 4 0 1 0 -8 0M916 274.9a4 4 0 1 0 8 0a4 4 0 1 0 -8 0M916 246.8a4 4 0 1 0 8 0a4 4 0 1 0 -8 0M916 227.7a4 4 0 1 0 8 0a4 4 0 1 0 -8 0M916 215.1a4 4 0 1 0 8 0a4 4 0 1 0 -8 0M914.7 140.1a4 4 0 1 0 8 0a4 4 0 1 0 -8 0M932.7 275.5a4 4 0 1 0 8 0a4 4 0 1 0 -8 0M932.7 249.8a4 4 0 1 0 8 0a4 4 0 1 0 -8 0M932.7 231a4 4 0 1 0 8 0a4 4 0 1 0 -8 0M932.7 217.6a4 4 0 1 0 8 0a4 4 0 1 0 -8 0M932.7 208.5a4 4 0 1 0 8 0a4 4 0 1 0 -8 0M946 274.4a4 4 0 1 0 8 0a4 4 0 1 0 -8 0M946 248.5a4 4 0 1 0 8 0a4 4 0 1 0 -8 0M946 231.8a4 4 0 1 0 8 0a4 4 0 1 0 -8 0M946 218.5a4 4 0 1 0 8 0a4 4 0 1 0 -8 0M953 286.5a4 4 0 1 0 8 0a4 4 0 1 0 -8 0M953 266.9a4 4 0 1 0 8 0a4 4 0 1 0 -8 0M953 251a4 4 0 1 0 8 0a4 4 0 1 0 -8 0M953 238.5a4 4 0 1 0 8 0a4 4 0 1 0 -8 0M973.1 286.9a4 4 0 1 0 8 0a4 4 0 1 0 -8 0M973.1 256.9a4 4 0 1 0 8 0a4 4 0 1 0 -8 0M973.1 236.8a4 4 0 1 0 8 0a4 4 0 1 0 -8 0M973.1 223.5a4 4 0 1 0 8 0a4 4 0 1 0 -8 0M973.1 213.5a4 4 0 1 0 8 0a4 4 0 1 0 -8 0M981.9 303.6a4 4 0 1 0 8 0a4 4 0 1 0 -8 0M981.9 273.9a4 4 0 1 0 8 0a4 4 0 1 0 -8 0M981.9 253.2a4 4 0 1 0 8 0a4 4 0 1 0 -8 0M981.9 238.2a4 4 0 1 0 8 0a4 4 0 1 0 -8 0M981.9 226.8a4 4 0 1 0 8 0a4 4 0 1 0 -8 0M981.9 218.5a4 4 0 1 0 8 0a4 4 0 1 0 -8 0M982.7 125.9a4 4 0 1 0 8 0a4 4 0 1 0 -8 0M996.1 287.7a4 4 0 1 0 8 0a4 4 0 1 0 -8 0M996.1 261a4 4 0 1 0 8 0a4 4 0 1 0 -8 0M996.1 242.7a4 4 0 1 0 8 0a4 4 0 1 0 -8 0M996.1 229.3a4 4 0 1 0 8 0a4 4 0 1 0 -8 0M996.1 218.5a4 4 0 1 0 8 0a4 4 0 1 0 -8 0M1006.9 282.7a4 4 0 1 0 8 0a4 4 0 1 0 -8 0M1006.9 259.9a4 4 0 1 0 8 0a4 4 0 1 0 -8 0M1006.9 242.7a4 4 0 1 0 8 0a4 4 0 1 0 -8 0M1006.9 231.5a4 4 0 1 0 8 0a4 4 0 1 0 -8 0M1006.9 221.8a4 4 0 1 0 8 0a4 4 0 1 0 -8 0M1017.8 297.7a4 4 0 1 0 8 0a4 4 0 1 0 -8 0M1017.8 272.7a4 4 0 1 0 8 0a4 4 0 1 0 -8 0M1017.8 254.9a4 4 0 1 0 8 0a4 4 0 1 0 -8 0M1017.8 241.8a4 4 0 1 0 8 0a4 4 0 1 0 -8 0M1017.8 231.8a4 4 0 1 0 8 0a4 4 0 1 0 -8 0M1017.8 223.5a4 4 0 1 0 8 0a4 4 0 1 0 -8 0M1025.3 302.7a4 4 0 1 0 8 0a4 4 0 1 0 -8 0M1025.3 281.9a4 4 0 1 0 8 0a4 4 0 1 0 -8 0M1025.3 268.5a4 4 0 1 0 8 0a4 4 0 1 0 -8 0M1025.3 257.7a4 4 0 1 0 8 0a4 4 0 1 0 -8 0M1025.3 249.3a4 4 0 1 0 8 0a4 4 0 1 0 -8 0M1034.5 293.6a4 4 0 1 0 8 0a4 4 0 1 0 -8 0M1034.5 279.4a4 4 0 1 0 8 0a4 4 0 1 0 -8 0M1034.5 268.5a4 4 0 1 0 8 0a4 4 0 1 0 -8 0M1050.3 293.9a4 4 0 1 0 8 0a4 4 0 1 0 -8 0M1050.3 278.2a4 4 0 1 0 8 0a4 4 0 1 0 -8 0M1050.3 264.9a4 4 0 1 0 8 0a4 4 0 1 0 -8 0M1050.3 254.4a4 4 0 1 0 8 0a4 4 0 1 0 -8 0M1050.3 246.5a4 4 0 1 0 8 0a4 4 0 1 0 -8 0M1067.5 294.9a4 4 0 1 0 8 0a4 4 0 1 0 -8 0M1067.5 279.4a4 4 0 1 0 8 0a4 4 0 1 0 -8 0M1067.5 265.2a4 4 0 1 0 8 0a4 4 0 1 0 -8 0M1067.5 252.7a4 4 0 1 0 8 0a4 4 0 1 0 -8 0M1067.5 243.5a4 4 0 1 0 8 0a4 4 0 1 0 -8 0M1067.5 235.2a4 4 0 1 0 8 0a4 4 0 1 0 -8 0M1067.5 226.8a4 4 0 1 0 8 0a4 4 0 1 0 -8 0M1067.5 219.3a4 4 0 1 0 8 0a4 4 0 1 0 -8 0M1077 298.9a4 4 0 1 0 8 0a4 4 0 1 0 -8 0M1077 286.9a4 4 0 1 0 8 0a4 4 0 1 0 -8 0M1077 276.9a4 4 0 1 0 8 0a4 4 0 1 0 -8 0M1093.7 137.6a4 4 0 1 0 8 0a4 4 0 1 0 -8 0M1099.2 290.2a4 4 0 1 0 8 0a4 4 0 1 0 -8 0M1099.2 275.2a4 4 0 1 0 8 0a4 4 0 1 0 -8 0M1099.2 263.2a4 4 0 1 0 8 0a4 4 0 1 0 -8 0M1099.2 253.5a4 4 0 1 0 8 0a4 4 0 1 0 -8 0M1111.2 301.9a4 4 0 1 0 8 0a4 4 0 1 0 -8 0M1111.2 290.2a4 4 0 1 0 8 0a4 4 0 1 0 -8 0M1111.2 281a4 4 0 1 0 8 0a4 4 0 1 0 -8 0M1130 297.2a4 4 0 1 0 8 0a4 4 0 1 0 -8 0M1130 286.9a4 4 0 1 0 8 0a4 4 0 1 0 -8 0M1130 278.5a4 4 0 1 0 8 0a4 4 0 1 0 -8 0M1142.1 156.8a4 4 0 1 0 8 0a4 4 0 1 0 -8 0M1195.4 174.3a4 4 0 1 0 8 0a4 4 0 1 0 -8 0M1218.8 195.1a4 4 0 1 0 8 0a4 4 0 1 0 -8 0M1226.3 181.8a4 4 0 1 0 8 0a4 4 0 1 0 -8 0M1241.3 321.7a4 4 0 1 0 8 0a4 4 0 1 0 -8 0M1241.3 335.4a4 4 0 1 0 8 0a4 4 0 1 0 -8 0M1241.3 353.1a4 4 0 1 0 8 0a4 4 0 1 0 -8 0M1241.3 376.8a4 4 0 1 0 8 0a4 4 0 1 0 -8 0M1241.3 411.8a4 4 0 1 0 8 0a4 4 0 1 0 -8 0M1241.3 458.5a4 4 0 1 0 8 0a4 4 0 1 0 -8 0M1248.5 203.5a4 4 0 1 0 8 0a4 4 0 1 0 -8 0M1251.8 185.4a4 4 0 1 0 8 0a4 4 0 1 0 -8 0M1261.9 179.3a4 4 0 1 0 8 0a4 4 0 1 0 -8 0M1271 168.4a4 4 0 1 0 8 0a4 4 0 1 0 -8 0M1284.4 156.8a4 4 0 1 0 8 0a4 4 0 1 0 -8 0M1293.6 150.1a4 4 0 1 0 8 0a4 4 0 1 0 -8 0M1299.7 292.5a4 4 0 1 0 8 0a4 4 0 1 0 -8 0M1299.7 307.5a4 4 0 1 0 8 0a4 4 0 1 0 -8 0M1299.7 329.5a4 4 0 1 0 8 0a4 4 0 1 0 -8 0M1299.7 362.1a4 4 0 1 0 8 0a4 4 0 1 0 -8 0M1299.7 421a4 4 0 1 0 8 0a4 4 0 1 0 -8 0M1322.4 293a4 4 0 1 0 8 0a4 4 0 1 0 -8 0M1322.4 305.8a4 4 0 1 0 8 0a4 4 0 1 0 -8 0M1322.4 320.9a4 4 0 1 0 8 0a4 4 0 1 0 -8 0M1322.4 343.1a4 4 0 1 0 8 0a4 4 0 1 0 -8 0M1322.4 373.8a4 4 0 1 0 8 0a4 4 0 1 0 -8 0M1322.4 428.1a4 4 0 1 0 8 0a4 4 0 1 0 -8 0M1322.8 284.4a4 4 0 1 0 8 0a4 4 0 1 0 -8 0M1322.8 292.7a4 4 0 1 0 8 0a4 4 0 1 0 -8 0M1322.8 303.6a4 4 0 1 0 8 0a4 4 0 1 0 -8 0M1337.1 424.3a4 4 0 1 0 8 0a4 4 0 1 0 -8 0M1337.1 434.8a4 4 0 1 0 8 0a4 4 0 1 0 -8 0M1337.1 446.8a4 4 0 1 0 8 0a4 4 0 1 0 -8 0M1337.1 461a4 4 0 1 0 8 0a4 4 0 1 0 -8 0M1337.1 478.9a4 4 0 1 0 8 0a4 4 0 1 0 -8 0M1337.1 501.5a4 4 0 1 0 8 0a4 4 0 1 0 -8 0M1332.8 434.3a4 4 0 1 0 8 0a4 4 0 1 0 -8 0M1332.8 488.9a4 4 0 1 0 8 0a4 4 0 1 0 -8 0M1331.9 396.8a4 4 0 1 0 8 0a4 4 0 1 0 -8 0M1331.9 371.7a4 4 0 1 0 8 0a4 4 0 1 0 -8 0M1332.8 351.7a4 4 0 1 0 8 0a4 4 0 1 0 -8 0M1332.4 338.4a4 4 0 1 0 8 0a4 4 0 1 0 -8 0M1332.4 325.9a4 4 0 1 0 8 0a4 4 0 1 0 -8 0M1366.1 342.1a4 4 0 1 0 8 0a4 4 0 1 0 -8 0M1366.1 350.9a4 4 0 1 0 8 0a4 4 0 1 0 -8 0M1366.1 359.6a4 4 0 1 0 8 0a4 4 0 1 0 -8 0M1366.1 368.7a4 4 0 1 0 8 0a4 4 0 1 0 -8 0M1366.1 382.1a4 4 0 1 0 8 0a4 4 0 1 0 -8 0M1366.1 397.3a4 4 0 1 0 8 0a4 4 0 1 0 -8 0M1366.1 416.3a4 4 0 1 0 8 0a4 4 0 1 0 -8 0M1366.1 441.8a4 4 0 1 0 8 0a4 4 0 1 0 -8 0M1366.1 479.9a4 4 0 1 0 8 0a4 4 0 1 0 -8 0M1376.1 220.2a4 4 0 1 0 8 0a4 4 0 1 0 -8 0M1392.3 343.1a4 4 0 1 0 8 0a4 4 0 1 0 -8 0M1392.3 354.2a4 4 0 1 0 8 0a4 4 0 1 0 -8 0M1392.3 367.9a4 4 0 1 0 8 0a4 4 0 1 0 -8 0M1392.3 384.6a4 4 0 1 0 8 0a4 4 0 1 0 -8 0M1392.3 405.6a4 4 0 1 0 8 0a4 4 0 1 0 -8 0M1392.3 436.3a4 4 0 1 0 8 0a4 4 0 1 0 -8 0M1392.3 483a4 4 0 1 0 8 0a4 4 0 1 0 -8 0M1402.8 380.1a4 4 0 1 0 8 0a4 4 0 1 0 -8 0M1402.8 392.9a4 4 0 1 0 8 0a4 4 0 1 0 -8 0M1402.8 408a4 4 0 1 0 8 0a4 4 0 1 0 -8 0M1402.8 426a4 4 0 1 0 8 0a4 4 0 1 0 -8 0M1402.8 450.2a4 4 0 1 0 8 0a4 4 0 1 0 -8 0M1402.8 483a4 4 0 1 0 8 0a4 4 0 1 0 -8 0M1417 211a4 4 0 1 0 8 0a4 4 0 1 0 -8 0M1423.2 365.9a4 4 0 1 0 8 0a4 4 0 1 0 -8 0M1423.2 377.6a4 4 0 1 0 8 0a4 4 0 1 0 -8 0M1423.2 391.8a4 4 0 1 0 8 0a4 4 0 1 0 -8 0M1423.2 409.3a4 4 0 1 0 8 0a4 4 0 1 0 -8 0M1423.2 432.1a4 4 0 1 0 8 0a4 4 0 1 0 -8 0M1423.2 451.8a4 4 0 1 0 8 0a4 4 0 1 0 -8 0M1423.2 517.7a4 4 0 1 0 8 0a4 4 0 1 0 -8 0M1432.5 391.3a4 4 0 1 0 8 0a4 4 0 1 0 -8 0M1432.5 400.1a4 4 0 1 0 8 0a4 4 0 1 0 -8 0M1432.5 414.8a4 4 0 1 0 8 0a4 4 0 1 0 -8 0M1432.5 428.5a4 4 0 1 0 8 0a4 4 0 1 0 -8 0M1432.5 446a4 4 0 1 0 8 0a4 4 0 1 0 -8 0M1432.5 469a4 4 0 1 0 8 0a4 4 0 1 0 -8 0M1432.5 498.9a4 4 0 1 0 8 0a4 4 0 1 0 -8 0M1466.2 317a4 4 0 1 0 8 0a4 4 0 1 0 -8 0M1466.2 327.9a4 4 0 1 0 8 0a4 4 0 1 0 -8 0M1466.2 339.2a4 4 0 1 0 8 0a4 4 0 1 0 -8 0M1466.2 355.9a4 4 0 1 0 8 0a4 4 0 1 0 -8 0M1466.2 376.3a4 4 0 1 0 8 0a4 4 0 1 0 -8 0M1466.2 403.9a4 4 0 1 0 8 0a4 4 0 1 0 -8 0M1466.2 446.5a4 4 0 1 0 8 0a4 4 0 1 0 -8 0M1487.9 165.9a4 4 0 1 0 8 0a4 4 0 1 0 -8 0M1491.8 293.7a4 4 0 1 0 8 0a4 4 0 1 0 -8 0M1491.8 306.7a4 4 0 1 0 8 0a4 4 0 1 0 -8 0M1491.8 323.4a4 4 0 1 0 8 0a4 4 0 1 0 -8 0M1491.8 347.1a4 4 0 1 0 8 0a4 4 0 1 0 -8 0M1491.8 378.4a4 4 0 1 0 8 0a4 4 0 1 0 -8 0M1491.8 437.1a4 4 0 1 0 8 0a4 4 0 1 0 -8 0M1492.1 303.6a4 4 0 1 0 8 0a4 4 0 1 0 -8 0M1492.1 293.6a4 4 0 1 0 8 0a4 4 0 1 0 -8 0M1492.1 283.5a4 4 0 1 0 8 0a4 4 0 1 0 -8 0M1492.1 274.9a4 4 0 1 0 8 0a4 4 0 1 0 -8 0M1512.9 292.5a4 4 0 1 0 8 0a4 4 0 1 0 -8 0M1516.3 298.3a4 4 0 1 0 8 0a4 4 0 1 0 -8 0M1510.4 305.8a4 4 0 1 0 8 0a4 4 0 1 0 -8 0M1515.4 312.5a4 4 0 1 0 8 0a4 4 0 1 0 -8 0M1516.3 322.5a4 4 0 1 0 8 0a4 4 0 1 0 -8 0M1510.4 328a4 4 0 1 0 8 0a4 4 0 1 0 -8 0M1515.4 335a4 4 0 1 0 8 0a4 4 0 1 0 -8 0M1514.9 348.1a4 4 0 1 0 8 0a4 4 0 1 0 -8 0M1510.4 357.9a4 4 0 1 0 8 0a4 4 0 1 0 -8 0M1514.9 371.7a4 4 0 1 0 8 0a4 4 0 1 0 -8 0M1514.9 401.8a4 4 0 1 0 8 0a4 4 0 1 0 -8 0M1510.4 409.6a4 4 0 1 0 8 0a4 4 0 1 0 -8 0M1514.9 452.7a4 4 0 1 0 8 0a4 4 0 1 0 -8 0M1536.3 256.9a4 4 0 1 0 8 0a4 4 0 1 0 -8 0M1537.1 266.9a4 4 0 1 0 8 0a4 4 0 1 0 -8 0M1538.8 276.9a4 4 0 1 0 8 0a4 4 0 1 0 -8 0M1537.1 286.9a4 4 0 1 0 8 0a4 4 0 1 0 -8 0M1538.8 295.2a4 4 0 1 0 8 0a4 4 0 1 0 -8 0M1537.6 302.7a4 4 0 1 0 8 0a4 4 0 1 0 -8 0M1538 298.3a4 4 0 1 0 8 0a4 4 0 1 0 -8 0M1539.6 306.7a4 4 0 1 0 8 0a4 4 0 1 0 -8 0M1538.8 315a4 4 0 1 0 8 0a4 4 0 1 0 -8 0M1536.3 320.9a4 4 0 1 0 8 0a4 4 0 1 0 -8 0M1538.8 325.9a4 4 0 1 0 8 0a4 4 0 1 0 -8 0M1538.8 333.4a4 4 0 1 0 8 0a4 4 0 1 0 -8 0M1538.8 341.7a4 4 0 1 0 8 0a4 4 0 1 0 -8 0M1537.1 350.4a4 4 0 1 0 8 0a4 4 0 1 0 -8 0M1537.6 360.1a4 4 0 1 0 8 0a4 4 0 1 0 -8 0M1537.6 373.8a4 4 0 1 0 8 0a4 4 0 1 0 -8 0M1537.6 389.3a4 4 0 1 0 8 0a4 4 0 1 0 -8 0M1535.5 403.4a4 4 0 1 0 8 0a4 4 0 1 0 -8 0M1538 408.5a4 4 0 1 0 8 0a4 4 0 1 0 -8 0M1537.6 431.3a4 4 0 1 0 8 0a4 4 0 1 0 -8 0M1537.6 461.8a4 4 0 1 0 8 0a4 4 0 1 0 -8 0M1537.6 509.1a4 4 0 1 0 8 0a4 4 0 1 0 -8 0M1561.3 295a4 4 0 1 0 8 0a4 4 0 1 0 -8 0M1560.5 303.3a4 4 0 1 0 8 0a4 4 0 1 0 -8 0M1561.3 311.7a4 4 0 1 0 8 0a4 4 0 1 0 -8 0M1553.8 320.9a4 4 0 1 0 8 0a4 4 0 1 0 -8 0M1563 320.9a4 4 0 1 0 8 0a4 4 0 1 0 -8 0M1563.8 328.4a4 4 0 1 0 8 0a4 4 0 1 0 -8 0M1563 336.7a4 4 0 1 0 8 0a4 4 0 1 0 -8 0M1553.8 343.7a4 4 0 1 0 8 0a4 4 0 1 0 -8 0M1558.8 339.2a4 4 0 1 0 8 0a4 4 0 1 0 -8 0M1562.7 348.7a4 4 0 1 0 8 0a4 4 0 1 0 -8 0M1558.8 358.4a4 4 0 1 0 8 0a4 4 0 1 0 -8 0M1563 362.6a4 4 0 1 0 8 0a4 4 0 1 0 -8 0M1562.7 380.1a4 4 0 1 0 8 0a4 4 0 1 0 -8 0M1553.8 388.9a4 4 0 1 0 8 0a4 4 0 1 0 -8 0M1558.8 387.6a4 4 0 1 0 8 0a4 4 0 1 0 -8 0M1562.7 402.1a4 4 0 1 0 8 0a4 4 0 1 0 -8 0M1558.8 430.6a4 4 0 1 0 8 0a4 4 0 1 0 -8 0M1563 436.5a4 4 0 1 0 8 0a4 4 0 1 0 -8 0M1553.3 470.2a4 4 0 1 0 8 0a4 4 0 1 0 -8 0M1562.7 488.2a4 4 0 1 0 8 0a4 4 0 1 0 -8 0M288 76.5a4 4 0 1 0 8 0a4 4 0 1 0 -8 0M1212 77a4 4 0 1 0 8 0a4 4 0 1 0 -8 0M1513.6 77a4 4 0 1 0 8 0a4 4 0 1 0 -8 0"/>
</g>
<g font-size="69" fill="#0000cd">
<text transform="translate(269 101) scale(1 1.03)" text-anchor="end">3.5</text>
<text transform="translate(269 374.8) scale(1 1.03)" text-anchor="end">3.0</text>
<text transform="translate(269 648.5) scale(1 1.03)" text-anchor="end">2.5</text>
<text transform="translate(269 922.2) scale(1 1.03)" text-anchor="end">2.0</text>
<clipPath id="k1"><path clip-rule="evenodd" d="M-400-200H400V100H-400ZM-92.5 -6.9H-78.5V1.4H-92.5ZM-72.6 -6.9H-59.3V1.4H-72.6Z"/></clipPath><text transform="translate(269 1196) scale(1 1.03)" text-anchor="end" clip-path="url(#k1)">1.5</text>
</g>
<g font-size="69" fill="#ff0000">
<text transform="translate(1798.5 102) scale(1 1.03)" text-anchor="start">0</text>
<text transform="translate(1798.5 321) scale(1 1.03)" text-anchor="start">-2</text>
<text transform="translate(1798.5 540) scale(1 1.03)" text-anchor="start">-4</text>
<text transform="translate(1798.5 759) scale(1 1.03)" text-anchor="start">-6</text>
<text transform="translate(1798.5 978) scale(1 1.03)" text-anchor="start">-8</text>
<clipPath id="k2"><path clip-rule="evenodd" d="M-400-200H400V100H-400ZM26.4 -6.9H40.4V1.4H26.4ZM46.3 -6.9H59.5V1.4H46.3Z"/></clipPath><text transform="translate(1798.5 1197) scale(1 1.03)" text-anchor="start" clip-path="url(#k2)">-10</text>
</g>
<g font-size="69" fill="#000">
<text transform="translate(292 1261.8) scale(1 1.03)" text-anchor="middle">0</text>
<text transform="translate(536.9 1261.8) scale(1 1.03)" text-anchor="middle">20</text>
<text transform="translate(781.8 1261.8) scale(1 1.03)" text-anchor="middle">40</text>
<text transform="translate(1026.8 1261.8) scale(1 1.03)" text-anchor="middle">60</text>
<text transform="translate(1271.7 1261.8) scale(1 1.03)" text-anchor="middle">80</text>
<clipPath id="k3"><path clip-rule="evenodd" d="M-400-200H400V100H-400ZM-54.1 -6.9H-40.2V1.4H-54.1ZM-34.2 -6.9H-21V1.4H-34.2Z"/></clipPath><text transform="translate(1516.6 1261.8) scale(1 1.03)" text-anchor="middle" clip-path="url(#k3)">100</text>
<clipPath id="k4"><path clip-rule="evenodd" d="M-400-200H400V100H-400ZM-54.1 -6.9H-40.2V1.4H-54.1ZM-34.2 -6.9H-21V1.4H-34.2Z"/></clipPath><text transform="translate(1761.5 1261.8) scale(1 1.03)" text-anchor="middle" clip-path="url(#k4)">120</text>
</g>
<g font-size="75.5" font-weight="bold">
<g fill="#000"><text transform="translate(580.6 1364) scale(1 1.035)" font-size="75.2">Specific capacity (mAh.g</text><text transform="translate(1469 1320.6) scale(1.93 1)" font-family="Liberation Serif,serif" font-weight="normal" font-size="30">−</text><clipPath id="k5"><path clip-rule="evenodd" d="M-400-200H400V100H-400ZM2.1 -6.9H12.4V1.1H2.1ZM19.5 -6.9H29.2V1.1H19.5Z"/></clipPath><text transform="translate(1500.5 1324.2)" font-size="53" clip-path="url(#k5)">1</text><text transform="translate(1529 1364) scale(1 1.035)">)</text></g>
<text transform="translate(113.5 975.5) rotate(-90) scale(1 1.035)" fill="#0000cd">Potential (V) vs. Li<tspan font-size="49" dy="-40">+</tspan><tspan dy="40" dx="2.5">/Li</tspan></text>
<g transform="translate(1923.8 323.3) rotate(90)" fill="#ff0000"><text transform="scale(1 1.035)">Current (mA.g</text><text transform="translate(503.5 -41.9) scale(1.93 1)" font-family="Liberation Serif,serif" font-weight="normal" font-size="30">−</text><clipPath id="k6"><path clip-rule="evenodd" d="M-400-200H400V100H-400ZM2.1 -6.9H12.4V1.1H2.1ZM19.5 -6.9H29.2V1.1H19.5Z"/></clipPath><text transform="translate(535 -38)" font-size="53" clip-path="url(#k6)">1</text><text transform="translate(562.5 0) scale(1 1.035)">)</text></g>
</g>
<g class="m" font-size="52.3" fill="#000" letter-spacing="-0.8">
<text transform="translate(549.9 765) scale(1.2 1)">I</text>
<text transform="translate(821.9 822) scale(1.2 1)">II</text>
<text transform="translate(1153.4 934) scale(1.2 1)">III</text>
<text transform="translate(1434.7 1003.5) scale(1.2 1)">IV</text>
</g>
</svg></body></html>
